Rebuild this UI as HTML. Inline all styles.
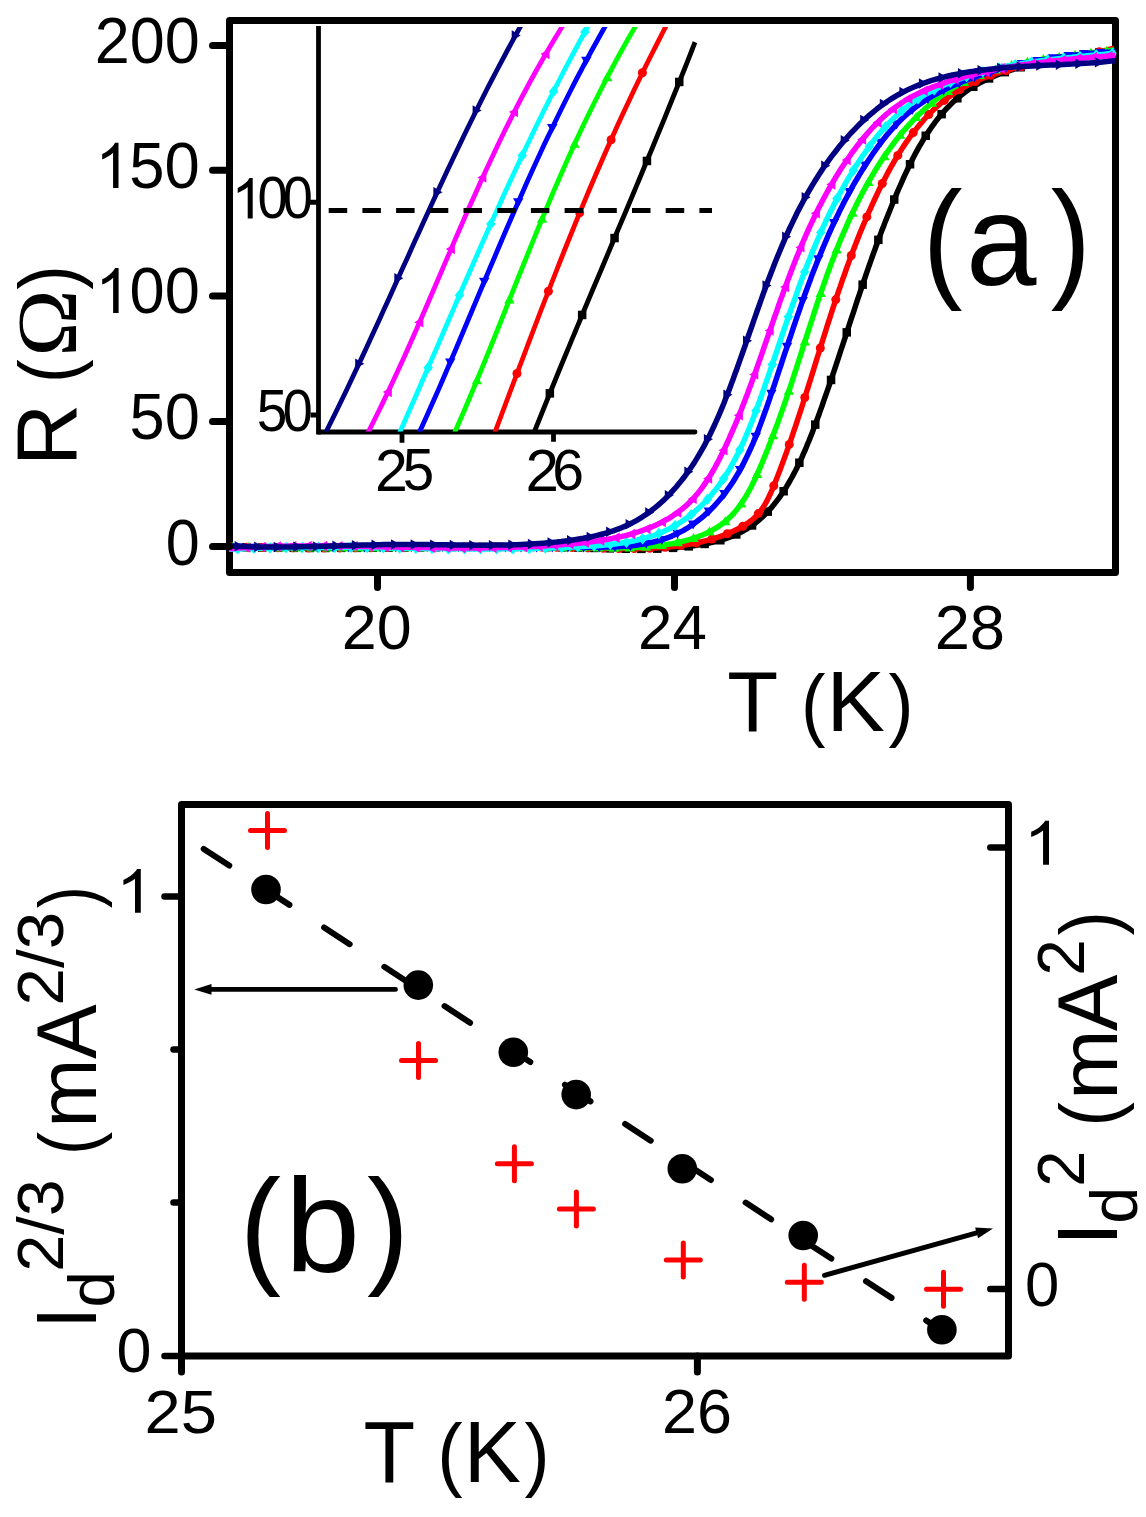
<!DOCTYPE html>
<html><head><meta charset="utf-8"><style>html,body{margin:0;padding:0;background:#fff;overflow:hidden}svg{display:block}</style></head><body>
<svg width="1146" height="1517" viewBox="0 0 1146 1517">
<rect x="0" y="0" width="1146" height="1517" fill="#ffffff"/>
<defs><clipPath id="ca"><rect x="229" y="24" width="887.5" height="545"/></clipPath><clipPath id="ci"><rect x="320.9" y="27" width="376.1" height="404.6"/></clipPath></defs>
<path d="M318.5 26 V434.4" fill="none" stroke="#000" stroke-width="4.8"/>
<path d="M318.5 432 H695" fill="none" stroke="#000" stroke-width="4.8" stroke-linecap="round"/>
<path d="M309.4 202.3 H318.5 M310.5 415 H318.5" stroke="#000" stroke-width="5"/>
<path d="M402 432 V442.8 M553.5 432 V441.8" stroke="#000" stroke-width="4.8"/>
<g clip-path="url(#ci)"><path d="M519.5 470.0 C522.1 463.3 524.6 456.7 527.2 450.0 C529.8 443.3 532.5 436.7 535.1 430.0 C537.7 423.3 540.4 416.7 543.1 410.0 C545.8 403.3 548.5 396.7 551.2 390.0 C553.9 383.3 556.6 376.7 559.3 370.0 C562.1 363.3 564.8 356.7 567.6 350.0 C570.3 343.3 573.1 336.7 575.9 330.0 C578.7 323.3 581.5 316.7 584.2 310.0 C587.0 303.3 589.8 296.7 592.6 290.0 C595.4 283.3 598.3 276.7 601.1 270.0 C603.9 263.3 606.7 256.7 609.5 250.0 C612.3 243.3 615.1 236.7 617.9 230.0 C620.7 223.3 623.6 216.7 626.4 210.0 C629.2 203.3 632.0 196.7 634.8 190.0 C637.6 183.3 640.4 176.7 643.1 170.0 C645.9 163.3 648.7 156.7 651.5 150.0 C654.2 143.3 657.0 136.7 659.7 130.0 C662.5 123.3 665.2 116.7 667.9 110.0 C670.6 103.3 673.3 96.7 676.0 90.0 C678.7 83.3 681.4 76.7 684.1 70.0 C686.7 63.3 690.0 55.1 692.0 50.0 C693.2 46.8 694.0 44.8 695.0 42.2" fill="none" stroke="#000000" stroke-width="4.8" stroke-linejoin="round"/>
<rect x="545.6" y="389.1" width="8.5" height="8.5" fill="#000000"/>
<rect x="577.9" y="310.7" width="8.5" height="8.5" fill="#000000"/>
<rect x="610.3" y="233.8" width="8.5" height="8.5" fill="#000000"/>
<rect x="642.7" y="156.7" width="8.5" height="8.5" fill="#000000"/>
<rect x="675.0" y="77.7" width="8.5" height="8.5" fill="#000000"/>
<path d="M480.6 470.0 C483.1 463.3 485.7 456.7 488.2 450.0 C490.7 443.3 493.2 436.7 495.8 430.0 C498.3 423.3 500.8 416.7 503.3 410.0 C505.8 403.3 508.3 396.7 510.8 390.0 C513.3 383.3 515.8 376.7 518.3 370.0 C520.9 363.3 523.4 356.7 525.9 350.0 C528.4 343.3 530.9 336.7 533.5 330.0 C536.0 323.3 538.6 316.7 541.1 310.0 C543.7 303.3 546.3 296.7 548.9 290.0 C551.5 283.3 554.1 276.7 556.7 270.0 C559.3 263.3 562.0 256.7 564.6 250.0 C567.3 243.3 570.0 236.7 572.7 230.0 C575.4 223.3 578.1 216.7 580.9 210.0 C583.6 203.3 586.4 196.7 589.2 190.0 C592.1 183.3 594.9 176.7 597.8 170.0 C600.7 163.3 603.6 156.7 606.5 150.0 C609.5 143.3 612.5 136.7 615.5 130.0 C618.5 123.3 621.6 116.7 624.7 110.0 C627.8 103.3 630.9 96.7 634.1 90.0 C637.3 83.3 640.5 76.7 643.8 70.0 C647.1 63.3 650.4 56.7 653.8 50.0 C657.1 43.3 660.6 36.7 664.0 30.0 C667.5 23.3 671.1 16.7 674.6 10.0 C678.2 3.3 681.9 -3.3 685.6 -10.0" fill="none" stroke="#ff0000" stroke-width="4.8" stroke-linejoin="round"/>
<circle cx="485.7" cy="456.6" r="4.5" fill="#ff0000"/>
<circle cx="517.0" cy="373.5" r="4.5" fill="#ff0000"/>
<circle cx="548.4" cy="291.3" r="4.5" fill="#ff0000"/>
<circle cx="579.7" cy="212.8" r="4.5" fill="#ff0000"/>
<circle cx="611.1" cy="139.8" r="4.5" fill="#ff0000"/>
<circle cx="642.4" cy="72.8" r="4.5" fill="#ff0000"/>
<circle cx="673.7" cy="11.7" r="4.5" fill="#ff0000"/>
<path d="M437.6 470.0 C440.7 463.3 443.8 456.7 446.8 450.0 C449.9 443.3 452.8 436.7 455.8 430.0 C458.7 423.3 461.6 416.7 464.5 410.0 C467.3 403.3 470.1 396.7 472.9 390.0 C475.7 383.3 478.5 376.7 481.2 370.0 C483.9 363.3 486.7 356.7 489.4 350.0 C492.1 343.3 494.7 336.7 497.4 330.0 C500.1 323.3 502.7 316.7 505.4 310.0 C508.0 303.3 510.7 296.7 513.3 290.0 C516.0 283.3 518.6 276.7 521.3 270.0 C524.0 263.3 526.7 256.7 529.4 250.0 C532.0 243.3 534.8 236.7 537.5 230.0 C540.2 223.3 543.0 216.7 545.8 210.0 C548.6 203.3 551.4 196.7 554.2 190.0 C557.1 183.3 560.0 176.7 562.9 170.0 C565.9 163.3 568.8 156.7 571.9 150.0 C574.9 143.3 578.0 136.7 581.1 130.0 C584.3 123.3 587.4 116.7 590.7 110.0 C594.0 103.3 597.3 96.7 600.7 90.0 C604.1 83.3 607.5 76.7 611.1 70.0 C614.6 63.3 618.2 56.6 621.9 50.0 C625.6 43.3 629.4 36.6 633.3 30.0 C637.2 23.3 641.1 16.6 645.2 10.0 C649.3 3.3 653.5 -3.3 657.7 -10.0" fill="none" stroke="#00ff00" stroke-width="4.8" stroke-linejoin="round"/>
<polygon points="444.3,450.3 439.1,459.3 449.5,459.3" fill="#00ff00"/>
<polygon points="476.9,375.3 471.7,384.3 482.1,384.3" fill="#00ff00"/>
<polygon points="509.5,294.5 504.2,303.5 514.7,303.5" fill="#00ff00"/>
<polygon points="542.0,213.8 536.8,222.8 547.3,222.8" fill="#00ff00"/>
<polygon points="574.6,138.8 569.4,147.8 579.8,147.8" fill="#00ff00"/>
<polygon points="607.2,72.2 601.9,81.2 612.4,81.2" fill="#00ff00"/>
<polygon points="639.7,13.8 634.5,22.8 645.0,22.8" fill="#00ff00"/>
<path d="M401.8 470.0 C404.9 463.3 408.1 456.7 411.2 450.0 C414.3 443.3 417.4 436.7 420.4 430.0 C423.5 423.3 426.5 416.7 429.4 410.0 C432.4 403.3 435.3 396.7 438.3 390.0 C441.2 383.3 444.1 376.7 446.9 370.0 C449.8 363.3 452.6 356.7 455.5 350.0 C458.3 343.3 461.1 336.7 463.9 330.0 C466.7 323.3 469.5 316.7 472.3 310.0 C475.1 303.3 477.9 296.7 480.7 290.0 C483.5 283.3 486.3 276.7 489.1 270.0 C492.0 263.3 494.8 256.7 497.6 250.0 C500.4 243.3 503.3 236.7 506.1 230.0 C509.0 223.3 511.9 216.7 514.8 210.0 C517.7 203.3 520.6 196.7 523.6 190.0 C526.5 183.3 529.5 176.7 532.5 170.0 C535.6 163.3 538.6 156.7 541.7 150.0 C544.8 143.3 548.0 136.7 551.2 130.0 C554.4 123.3 557.6 116.7 560.9 110.0 C564.2 103.3 567.5 96.7 570.9 90.0 C574.3 83.3 577.7 76.7 581.3 70.0 C584.8 63.3 588.4 56.7 592.0 50.0 C595.7 43.3 599.4 36.7 603.1 30.0 C606.9 23.3 610.8 16.6 614.7 10.0 C618.7 3.3 622.8 -3.3 626.8 -10.0" fill="none" stroke="#0000ff" stroke-width="4.8" stroke-linejoin="round"/>
<polygon points="416.2,444.4 411.0,435.4 421.5,435.4" fill="#0000ff"/>
<polygon points="450.3,367.5 445.0,358.4 455.5,358.4" fill="#0000ff"/>
<polygon points="484.3,286.8 479.0,277.8 489.5,277.8" fill="#0000ff"/>
<polygon points="518.3,207.2 513.0,198.2 523.5,198.2" fill="#0000ff"/>
<polygon points="552.3,132.9 547.0,123.9 557.5,123.9" fill="#0000ff"/>
<polygon points="586.3,65.8 581.1,56.8 591.5,56.8" fill="#0000ff"/>
<polygon points="620.3,6.0 615.1,-3.0 625.5,-3.0" fill="#0000ff"/>
<path d="M382.7 470.0 C385.7 463.3 388.8 456.7 391.8 450.0 C394.8 443.3 397.8 436.7 400.8 430.0 C403.7 423.3 406.7 416.7 409.6 410.0 C412.6 403.3 415.5 396.7 418.4 390.0 C421.3 383.3 424.2 376.7 427.1 370.0 C430.0 363.3 432.9 356.7 435.8 350.0 C438.7 343.3 441.6 336.7 444.4 330.0 C447.3 323.3 450.2 316.7 453.1 310.0 C456.0 303.3 458.9 296.7 461.7 290.0 C464.6 283.3 467.5 276.7 470.5 270.0 C473.4 263.3 476.3 256.7 479.2 250.0 C482.2 243.3 485.1 236.7 488.1 230.0 C491.1 223.3 494.0 216.7 497.1 210.0 C500.1 203.3 503.1 196.7 506.1 190.0 C509.2 183.3 512.3 176.7 515.4 170.0 C518.5 163.3 521.6 156.7 524.8 150.0 C528.0 143.3 531.2 136.7 534.4 130.0 C537.6 123.3 540.9 116.7 544.2 110.0 C547.5 103.3 550.8 96.7 554.2 90.0 C557.6 83.3 561.1 76.7 564.5 70.0 C568.0 63.3 571.5 56.7 575.1 50.0 C578.7 43.3 582.3 36.7 586.0 30.0 C589.6 23.3 593.4 16.7 597.1 10.0 C600.9 3.3 604.8 -3.3 608.7 -10.0" fill="none" stroke="#00ffff" stroke-width="4.8" stroke-linejoin="round"/>
<polygon points="396.8,433.2 401.5,438.9 396.8,444.6 392.0,438.9" fill="#00ffff"/>
<polygon points="428.1,362.0 432.9,367.7 428.1,373.4 423.4,367.7" fill="#00ffff"/>
<polygon points="459.5,289.5 464.2,295.2 459.5,300.9 454.7,295.2" fill="#00ffff"/>
<polygon points="490.8,218.2 495.6,223.9 490.8,229.6 486.1,223.9" fill="#00ffff"/>
<polygon points="522.2,149.8 526.9,155.5 522.2,161.2 517.4,155.5" fill="#00ffff"/>
<polygon points="553.5,85.7 558.3,91.4 553.5,97.1 548.8,91.4" fill="#00ffff"/>
<polygon points="584.8,26.3 589.6,32.0 584.8,37.7 580.1,32.0" fill="#00ffff"/>
<path d="M348.1 470.0 C351.7 463.3 355.4 456.7 359.0 450.0 C362.5 443.3 365.9 436.7 369.3 430.0 C372.7 423.3 376.0 416.7 379.3 410.0 C382.6 403.3 385.7 396.7 388.9 390.0 C392.1 383.3 395.2 376.7 398.2 370.0 C401.3 363.3 404.3 356.7 407.3 350.0 C410.3 343.3 413.2 336.7 416.2 330.0 C419.1 323.3 422.0 316.7 424.9 310.0 C427.8 303.3 430.6 296.7 433.5 290.0 C436.4 283.3 439.2 276.7 442.1 270.0 C444.9 263.3 447.8 256.7 450.7 250.0 C453.5 243.3 456.4 236.7 459.3 230.0 C462.2 223.3 465.1 216.7 468.0 210.0 C471.0 203.3 474.0 196.7 477.0 190.0 C480.0 183.3 483.0 176.7 486.1 170.0 C489.2 163.3 492.3 156.7 495.5 150.0 C498.6 143.3 501.9 136.7 505.1 130.0 C508.4 123.3 511.8 116.7 515.2 110.0 C518.6 103.3 522.1 96.7 525.7 90.0 C529.2 83.3 532.9 76.6 536.6 70.0 C540.4 63.3 544.2 56.6 548.1 50.0 C552.0 43.3 556.0 36.6 560.1 30.0 C564.2 23.3 568.4 16.6 572.7 10.0 C577.1 3.3 581.6 -3.3 586.1 -10.0" fill="none" stroke="#ff00ff" stroke-width="4.8" stroke-linejoin="round"/>
<polygon points="351.2,454.7 360.2,449.5 360.2,459.9" fill="#ff00ff"/>
<polygon points="382.8,392.0 391.8,386.7 391.8,397.2" fill="#ff00ff"/>
<polygon points="414.3,322.3 423.3,317.1 423.3,327.5" fill="#ff00ff"/>
<polygon points="445.8,249.0 454.9,243.8 454.9,254.3" fill="#ff00ff"/>
<polygon points="477.4,177.5 486.4,172.3 486.4,182.7" fill="#ff00ff"/>
<polygon points="508.9,112.0 518.0,106.8 518.0,117.2" fill="#ff00ff"/>
<polygon points="540.5,54.0 549.5,48.8 549.5,59.3" fill="#ff00ff"/>
<polygon points="572.0,3.1 581.1,-2.1 581.1,8.3" fill="#ff00ff"/>
<path d="M306.6 470.0 C310.0 463.3 313.5 456.7 316.9 450.0 C320.3 443.3 323.7 436.7 327.0 430.0 C330.4 423.3 333.6 416.7 336.9 410.0 C340.1 403.3 343.4 396.7 346.6 390.0 C349.7 383.3 352.9 376.7 356.0 370.0 C359.2 363.3 362.3 356.7 365.4 350.0 C368.5 343.3 371.5 336.7 374.6 330.0 C377.7 323.3 380.7 316.7 383.7 310.0 C386.8 303.3 389.8 296.7 392.8 290.0 C395.8 283.3 398.8 276.7 401.8 270.0 C404.9 263.3 407.9 256.7 410.9 250.0 C413.9 243.3 416.9 236.7 420.0 230.0 C423.0 223.3 426.0 216.7 429.1 210.0 C432.1 203.3 435.2 196.7 438.3 190.0 C441.4 183.3 444.5 176.7 447.6 170.0 C450.8 163.3 453.9 156.7 457.1 150.0 C460.3 143.3 463.5 136.7 466.7 130.0 C470.0 123.3 473.3 116.7 476.6 110.0 C479.9 103.3 483.2 96.7 486.6 90.0 C490.0 83.3 493.5 76.7 497.0 70.0 C500.5 63.3 504.0 56.7 507.6 50.0 C511.2 43.3 514.8 36.7 518.5 30.0 C522.2 23.3 526.0 16.7 529.8 10.0 C533.7 3.3 537.6 -3.3 541.5 -10.0" fill="none" stroke="#000080" stroke-width="4.8" stroke-linejoin="round"/>
<polygon points="364.2,363.7 355.2,358.5 355.2,368.9" fill="#000080"/>
<polygon points="403.3,278.2 394.3,273.0 394.3,283.5" fill="#000080"/>
<polygon points="442.5,192.3 433.4,187.0 433.4,197.5" fill="#000080"/>
<polygon points="481.6,110.4 472.6,105.2 472.6,115.6" fill="#000080"/>
<polygon points="520.7,35.5 511.7,30.3 511.7,40.7" fill="#000080"/></g>
<line x1="328.7" y1="210.5" x2="712" y2="210.5" stroke="#000" stroke-width="5" stroke-dasharray="18.5 15.2"/>
<rect x="229.5" y="20.5" width="886" height="552" fill="none" stroke="#000" stroke-width="7" stroke-linejoin="round"/>
<g clip-path="url(#ca)"><path d="M228.8 546.8 L233.4 546.9 L237.9 547.1 L242.5 547.2 L247.1 547.2 L251.7 547.3 L256.3 547.4 L260.8 547.5 L265.4 547.6 L270.0 547.6 L274.5 547.7 L279.1 547.7 L283.7 547.8 L288.2 547.8 L292.8 547.8 L297.4 547.9 L301.9 547.9 L306.5 547.9 L311.0 547.9 L315.6 547.9 L320.1 547.9 L324.7 547.9 L329.2 547.9 L333.8 547.9 L338.3 547.9 L342.9 547.9 L347.4 547.9 L352.0 547.8 L356.5 547.8 L361.1 547.8 L365.6 547.8 L370.1 547.7 L374.7 547.7 L379.2 547.7 L383.8 547.6 L388.3 547.6 L392.8 547.6 L397.4 547.5 L401.9 547.5 L406.4 547.5 L411.0 547.4 L415.5 547.4 L420.0 547.3 L424.6 547.3 L429.1 547.3 L433.7 547.2 L438.2 547.2 L442.7 547.2 L447.3 547.1 L451.8 547.1 L456.3 547.1 L460.9 547.0 L465.4 547.0 L470.0 547.0 L474.5 547.0 L479.0 547.0 L483.6 546.9 L488.1 546.9 L492.7 546.9 L497.2 546.9 L501.8 546.9 L506.3 546.9 L510.9 546.9 L515.4 546.9 L520.0 546.9 L524.5 547.0 L529.1 547.0 L533.6 547.0 L538.2 547.0 L542.7 547.1 L547.3 547.1 L551.9 547.2 L556.4 547.2 L561.0 547.3 L565.6 547.4 L570.1 547.4 L574.7 547.5 L579.3 547.6 L583.9 547.7 L588.4 547.8 L593.0 547.9 L597.6 548.0 L602.2 548.2 L606.8 548.3 L611.3 548.4 L615.9 548.5 L620.5 548.6 L625.1 548.7 L629.7 548.8 L634.3 548.8 L638.9 548.9 L643.4 548.8 L648.0 548.8 L652.6 548.7 L657.2 548.6 L661.7 548.5 L666.3 548.2 L670.8 548.0 L675.4 547.7 L679.9 547.3 L684.5 546.9 L689.0 546.4 L693.5 545.8 L698.0 545.1 L702.5 544.4 L706.9 543.5 L711.3 542.6 L715.6 541.5 L719.9 540.4 L724.1 539.1 L728.3 537.6 L732.4 536.1 L736.4 534.4 L740.3 532.5 L744.1 530.5 L747.8 528.3 L751.4 525.9 L754.9 523.4 L758.3 520.7 L761.6 517.8 L764.7 514.8 L767.8 511.7 L770.8 508.4 L773.6 505.0 L776.4 501.4 L779.1 497.8 L781.7 494.1 L784.2 490.3 L786.7 486.4 L789.0 482.5 L791.3 478.5 L793.5 474.4 L795.7 470.3 L797.7 466.2 L799.7 462.1 L801.7 457.9 L803.5 453.7 L805.4 449.5 L807.1 445.2 L808.9 441.0 L810.6 436.7 L812.3 432.4 L813.9 428.1 L815.5 423.8 L817.1 419.5 L818.7 415.2 L820.2 410.9 L821.8 406.6 L823.3 402.2 L824.8 397.9 L826.3 393.6 L827.8 389.3 L829.3 385.0 L830.8 380.7 L832.2 376.4 L833.7 372.1 L835.1 367.8 L836.6 363.4 L838.0 359.1 L839.4 354.8 L840.8 350.5 L842.3 346.2 L843.7 341.9 L845.1 337.6 L846.5 333.3 L847.9 329.0 L849.3 324.7 L850.7 320.4 L852.1 316.1 L853.6 311.8 L855.0 307.5 L856.4 303.2 L857.8 298.9 L859.3 294.6 L860.7 290.3 L862.2 286.0 L863.6 281.7 L865.1 277.4 L866.5 273.1 L868.0 268.9 L869.5 264.6 L871.0 260.3 L872.5 256.0 L874.1 251.8 L875.6 247.5 L877.2 243.2 L878.7 238.9 L880.3 234.7 L881.9 230.4 L883.6 226.2 L885.2 221.9 L886.9 217.7 L888.6 213.4 L890.3 209.2 L892.0 204.9 L893.7 200.7 L895.5 196.4 L897.3 192.2 L899.1 188.0 L901.0 183.8 L902.8 179.6 L904.7 175.4 L906.7 171.2 L908.7 167.0 L910.7 162.9 L912.7 158.8 L914.8 154.7 L917.0 150.7 L919.2 146.7 L921.5 142.8 L923.8 138.9 L926.2 135.1 L928.7 131.4 L931.2 127.7 L933.8 124.1 L936.4 120.5 L939.2 117.1 L942.0 113.7 L944.9 110.4 L947.9 107.2 L951.0 104.1 L954.1 101.1 L957.4 98.2 L960.7 95.5 L964.2 92.8 L967.7 90.3 L971.4 87.8 L975.2 85.5 L979.0 83.3 L983.0 81.3 L987.0 79.3 L991.2 77.5 L995.3 75.7 L999.6 74.0 L1003.9 72.5 L1008.3 71.0 L1012.7 69.6 L1017.2 68.2 L1021.6 67.0 L1026.2 65.8 L1030.7 64.6 L1035.2 63.5 L1039.8 62.5 L1044.4 61.5 L1048.9 60.5 L1053.5 59.6 L1058.0 58.8 L1062.6 57.9 L1067.1 57.1 L1071.6 56.4 L1076.1 55.7 L1080.6 55.0 L1085.0 54.3 L1089.4 53.7 L1093.8 53.1 L1098.2 52.5 L1102.5 51.9 L1106.7 51.4 L1110.9 50.9 L1115.1 50.4" fill="none" stroke="#000000" stroke-width="5.5" stroke-linejoin="round"/>
<rect x="242.1" y="543.0" width="8.5" height="8.5" fill="#000000"/>
<rect x="257.9" y="543.3" width="8.5" height="8.5" fill="#000000"/>
<rect x="273.8" y="543.5" width="8.5" height="8.5" fill="#000000"/>
<rect x="289.5" y="543.6" width="8.5" height="8.5" fill="#000000"/>
<rect x="305.4" y="543.7" width="8.5" height="8.5" fill="#000000"/>
<rect x="321.1" y="543.7" width="8.5" height="8.5" fill="#000000"/>
<rect x="336.9" y="543.6" width="8.5" height="8.5" fill="#000000"/>
<rect x="352.8" y="543.6" width="8.5" height="8.5" fill="#000000"/>
<rect x="368.5" y="543.5" width="8.5" height="8.5" fill="#000000"/>
<rect x="384.3" y="543.4" width="8.5" height="8.5" fill="#000000"/>
<rect x="400.1" y="543.2" width="8.5" height="8.5" fill="#000000"/>
<rect x="415.9" y="543.1" width="8.5" height="8.5" fill="#000000"/>
<rect x="431.8" y="543.0" width="8.5" height="8.5" fill="#000000"/>
<rect x="447.5" y="542.8" width="8.5" height="8.5" fill="#000000"/>
<rect x="463.3" y="542.8" width="8.5" height="8.5" fill="#000000"/>
<rect x="479.1" y="542.7" width="8.5" height="8.5" fill="#000000"/>
<rect x="494.9" y="542.7" width="8.5" height="8.5" fill="#000000"/>
<rect x="510.8" y="542.7" width="8.5" height="8.5" fill="#000000"/>
<rect x="526.5" y="542.7" width="8.5" height="8.5" fill="#000000"/>
<rect x="542.3" y="542.9" width="8.5" height="8.5" fill="#000000"/>
<rect x="558.1" y="543.1" width="8.5" height="8.5" fill="#000000"/>
<rect x="574.0" y="543.3" width="8.5" height="8.5" fill="#000000"/>
<rect x="589.8" y="543.7" width="8.5" height="8.5" fill="#000000"/>
<rect x="605.5" y="544.1" width="8.5" height="8.5" fill="#000000"/>
<rect x="621.4" y="544.5" width="8.5" height="8.5" fill="#000000"/>
<rect x="637.1" y="544.6" width="8.5" height="8.5" fill="#000000"/>
<rect x="653.0" y="544.4" width="8.5" height="8.5" fill="#000000"/>
<rect x="668.8" y="543.6" width="8.5" height="8.5" fill="#000000"/>
<rect x="684.5" y="542.1" width="8.5" height="8.5" fill="#000000"/>
<rect x="700.4" y="539.7" width="8.5" height="8.5" fill="#000000"/>
<rect x="716.1" y="536.0" width="8.5" height="8.5" fill="#000000"/>
<rect x="732.0" y="530.2" width="8.5" height="8.5" fill="#000000"/>
<rect x="747.8" y="521.2" width="8.5" height="8.5" fill="#000000"/>
<rect x="763.5" y="507.4" width="8.5" height="8.5" fill="#000000"/>
<rect x="779.4" y="487.0" width="8.5" height="8.5" fill="#000000"/>
<rect x="795.1" y="458.5" width="8.5" height="8.5" fill="#000000"/>
<rect x="811.0" y="420.4" width="8.5" height="8.5" fill="#000000"/>
<rect x="826.8" y="375.7" width="8.5" height="8.5" fill="#000000"/>
<rect x="842.5" y="328.1" width="8.5" height="8.5" fill="#000000"/>
<rect x="858.4" y="280.4" width="8.5" height="8.5" fill="#000000"/>
<rect x="874.1" y="235.6" width="8.5" height="8.5" fill="#000000"/>
<rect x="890.0" y="195.3" width="8.5" height="8.5" fill="#000000"/>
<rect x="905.8" y="160.0" width="8.5" height="8.5" fill="#000000"/>
<rect x="921.5" y="131.5" width="8.5" height="8.5" fill="#000000"/>
<rect x="937.4" y="109.9" width="8.5" height="8.5" fill="#000000"/>
<rect x="953.1" y="94.0" width="8.5" height="8.5" fill="#000000"/>
<rect x="969.0" y="82.5" width="8.5" height="8.5" fill="#000000"/>
<rect x="984.8" y="74.2" width="8.5" height="8.5" fill="#000000"/>
<rect x="1000.5" y="67.9" width="8.5" height="8.5" fill="#000000"/>
<rect x="1016.4" y="63.0" width="8.5" height="8.5" fill="#000000"/>
<rect x="1032.2" y="59.0" width="8.5" height="8.5" fill="#000000"/>
<rect x="1048.0" y="55.6" width="8.5" height="8.5" fill="#000000"/>
<rect x="1063.8" y="52.7" width="8.5" height="8.5" fill="#000000"/>
<rect x="1079.5" y="50.2" width="8.5" height="8.5" fill="#000000"/>
<rect x="1095.3" y="48.0" width="8.5" height="8.5" fill="#000000"/>
<path d="M228.6 546.8 L233.2 546.9 L237.8 547.0 L242.4 547.1 L247.1 547.2 L251.7 547.3 L256.3 547.4 L260.9 547.5 L265.4 547.6 L270.0 547.6 L274.6 547.7 L279.2 547.7 L283.8 547.8 L288.3 547.8 L292.9 547.8 L297.5 547.9 L302.0 547.9 L306.6 547.9 L311.2 547.9 L315.7 547.9 L320.3 547.9 L324.8 547.9 L329.4 547.9 L333.9 547.9 L338.5 547.9 L343.0 547.9 L347.6 547.9 L352.1 547.9 L356.6 547.8 L361.2 547.8 L365.7 547.8 L370.3 547.8 L374.8 547.7 L379.3 547.7 L383.9 547.6 L388.4 547.6 L392.9 547.6 L397.4 547.5 L402.0 547.5 L406.5 547.5 L411.0 547.4 L415.6 547.4 L420.1 547.3 L424.6 547.3 L429.2 547.3 L433.7 547.2 L438.2 547.2 L442.7 547.1 L447.3 547.1 L451.8 547.1 L456.3 547.1 L460.9 547.0 L465.4 547.0 L469.9 547.0 L474.5 546.9 L479.0 546.9 L483.6 546.9 L488.1 546.9 L492.7 546.9 L497.2 546.9 L501.7 546.9 L506.3 546.9 L510.9 546.9 L515.4 546.9 L520.0 546.9 L524.5 546.9 L529.1 547.0 L533.7 547.0 L538.2 547.0 L542.8 547.1 L547.4 547.1 L551.9 547.2 L556.5 547.3 L561.1 547.3 L565.7 547.4 L570.3 547.5 L574.9 547.6 L579.5 547.7 L584.1 547.8 L588.7 547.9 L593.3 548.0 L597.9 548.1 L602.5 548.2 L607.1 548.3 L611.8 548.4 L616.4 548.5 L621.0 548.6 L625.6 548.6 L630.2 548.6 L634.8 548.6 L639.3 548.5 L643.9 548.4 L648.5 548.3 L653.0 548.1 L657.5 547.8 L662.1 547.5 L666.6 547.2 L671.1 546.7 L675.5 546.3 L680.0 545.7 L684.4 545.1 L688.8 544.3 L693.2 543.5 L697.6 542.6 L702.0 541.7 L706.3 540.6 L710.6 539.4 L714.8 538.1 L719.1 536.8 L723.3 535.3 L727.5 533.6 L731.6 531.9 L735.7 530.0 L739.7 528.0 L743.6 525.8 L747.3 523.4 L750.9 520.8 L754.2 518.0 L757.3 514.8 L760.1 511.5 L762.7 507.9 L765.1 504.1 L767.3 500.1 L769.3 496.0 L771.3 491.8 L773.1 487.5 L774.8 483.2 L776.6 478.9 L778.2 474.6 L779.9 470.3 L781.5 465.9 L783.1 461.6 L784.7 457.3 L786.3 453.0 L787.8 448.7 L789.3 444.4 L790.8 440.1 L792.3 435.7 L793.7 431.4 L795.2 427.1 L796.6 422.8 L798.0 418.5 L799.5 414.1 L800.9 409.8 L802.3 405.5 L803.6 401.2 L805.0 396.8 L806.4 392.5 L807.8 388.2 L809.1 383.8 L810.5 379.5 L811.8 375.2 L813.2 370.8 L814.5 366.5 L815.9 362.1 L817.2 357.8 L818.6 353.5 L819.9 349.1 L821.3 344.8 L822.6 340.5 L824.0 336.1 L825.4 331.8 L826.7 327.5 L828.1 323.2 L829.5 318.8 L830.9 314.5 L832.3 310.2 L833.7 305.9 L835.1 301.6 L836.6 297.2 L838.0 292.9 L839.5 288.6 L841.0 284.3 L842.4 280.0 L844.0 275.8 L845.5 271.5 L847.0 267.2 L848.6 262.9 L850.1 258.6 L851.7 254.4 L853.3 250.1 L855.0 245.9 L856.6 241.6 L858.3 237.4 L860.0 233.1 L861.7 228.9 L863.5 224.7 L865.3 220.5 L867.1 216.2 L868.9 212.0 L870.8 207.8 L872.7 203.7 L874.6 199.5 L876.5 195.3 L878.5 191.1 L880.5 187.0 L882.6 182.9 L884.7 178.8 L886.8 174.7 L889.0 170.6 L891.2 166.6 L893.5 162.6 L895.8 158.7 L898.2 154.8 L900.6 150.9 L903.0 147.1 L905.5 143.4 L908.1 139.7 L910.7 136.0 L913.4 132.4 L916.2 128.9 L919.0 125.5 L921.9 122.1 L924.8 118.8 L927.8 115.5 L930.9 112.4 L934.1 109.3 L937.3 106.3 L940.6 103.5 L944.0 100.7 L947.4 98.0 L951.0 95.4 L954.6 92.9 L958.3 90.5 L962.1 88.2 L966.0 86.1 L969.9 84.0 L974.0 82.1 L978.1 80.3 L982.3 78.5 L986.5 76.9 L990.8 75.3 L995.2 73.9 L999.6 72.5 L1004.0 71.1 L1008.5 69.9 L1013.0 68.7 L1017.6 67.6 L1022.1 66.5 L1026.7 65.5 L1031.3 64.5 L1035.9 63.6 L1040.5 62.7 L1045.1 61.8 L1049.7 60.9 L1054.3 60.1 L1058.9 59.3 L1063.4 58.5 L1067.9 57.7 L1072.4 57.0 L1076.8 56.2 L1081.2 55.4 L1085.5 54.6 L1089.8 53.7 L1094.0 52.9 L1098.2 52.0 L1102.3 51.1 L1106.3 50.2 L1110.2 49.2 L1114.0 48.2" fill="none" stroke="#ff0000" stroke-width="5.5" stroke-linejoin="round"/>
<circle cx="231.3" cy="546.9" r="4.5" fill="#ff0000"/>
<circle cx="246.8" cy="547.2" r="4.5" fill="#ff0000"/>
<circle cx="262.3" cy="547.5" r="4.5" fill="#ff0000"/>
<circle cx="277.8" cy="547.7" r="4.5" fill="#ff0000"/>
<circle cx="293.3" cy="547.8" r="4.5" fill="#ff0000"/>
<circle cx="308.8" cy="547.9" r="4.5" fill="#ff0000"/>
<circle cx="324.3" cy="547.9" r="4.5" fill="#ff0000"/>
<circle cx="339.8" cy="547.9" r="4.5" fill="#ff0000"/>
<circle cx="355.3" cy="547.8" r="4.5" fill="#ff0000"/>
<circle cx="370.8" cy="547.7" r="4.5" fill="#ff0000"/>
<circle cx="386.3" cy="547.6" r="4.5" fill="#ff0000"/>
<circle cx="401.8" cy="547.5" r="4.5" fill="#ff0000"/>
<circle cx="417.3" cy="547.4" r="4.5" fill="#ff0000"/>
<circle cx="432.8" cy="547.2" r="4.5" fill="#ff0000"/>
<circle cx="448.3" cy="547.1" r="4.5" fill="#ff0000"/>
<circle cx="463.8" cy="547.0" r="4.5" fill="#ff0000"/>
<circle cx="479.3" cy="546.9" r="4.5" fill="#ff0000"/>
<circle cx="494.8" cy="546.9" r="4.5" fill="#ff0000"/>
<circle cx="510.3" cy="546.9" r="4.5" fill="#ff0000"/>
<circle cx="525.8" cy="547.0" r="4.5" fill="#ff0000"/>
<circle cx="541.3" cy="547.1" r="4.5" fill="#ff0000"/>
<circle cx="556.8" cy="547.3" r="4.5" fill="#ff0000"/>
<circle cx="572.3" cy="547.5" r="4.5" fill="#ff0000"/>
<circle cx="587.8" cy="547.9" r="4.5" fill="#ff0000"/>
<circle cx="603.3" cy="548.2" r="4.5" fill="#ff0000"/>
<circle cx="618.8" cy="548.5" r="4.5" fill="#ff0000"/>
<circle cx="634.3" cy="548.6" r="4.5" fill="#ff0000"/>
<circle cx="649.8" cy="548.2" r="4.5" fill="#ff0000"/>
<circle cx="665.3" cy="547.3" r="4.5" fill="#ff0000"/>
<circle cx="680.8" cy="545.6" r="4.5" fill="#ff0000"/>
<circle cx="696.3" cy="542.9" r="4.5" fill="#ff0000"/>
<circle cx="711.8" cy="539.1" r="4.5" fill="#ff0000"/>
<circle cx="727.3" cy="533.7" r="4.5" fill="#ff0000"/>
<circle cx="742.8" cy="526.3" r="4.5" fill="#ff0000"/>
<circle cx="758.3" cy="513.6" r="4.5" fill="#ff0000"/>
<circle cx="773.8" cy="485.8" r="4.5" fill="#ff0000"/>
<circle cx="789.3" cy="444.4" r="4.5" fill="#ff0000"/>
<circle cx="804.8" cy="397.5" r="4.5" fill="#ff0000"/>
<circle cx="820.3" cy="348.0" r="4.5" fill="#ff0000"/>
<circle cx="835.8" cy="299.6" r="4.5" fill="#ff0000"/>
<circle cx="851.3" cy="255.5" r="4.5" fill="#ff0000"/>
<circle cx="866.8" cy="216.9" r="4.5" fill="#ff0000"/>
<circle cx="882.3" cy="183.5" r="4.5" fill="#ff0000"/>
<circle cx="897.8" cy="155.4" r="4.5" fill="#ff0000"/>
<circle cx="913.3" cy="132.6" r="4.5" fill="#ff0000"/>
<circle cx="928.8" cy="114.5" r="4.5" fill="#ff0000"/>
<circle cx="944.3" cy="100.4" r="4.5" fill="#ff0000"/>
<circle cx="959.8" cy="89.6" r="4.5" fill="#ff0000"/>
<circle cx="975.3" cy="81.5" r="4.5" fill="#ff0000"/>
<circle cx="990.8" cy="75.3" r="4.5" fill="#ff0000"/>
<circle cx="1006.3" cy="70.5" r="4.5" fill="#ff0000"/>
<circle cx="1021.8" cy="66.6" r="4.5" fill="#ff0000"/>
<circle cx="1037.3" cy="63.3" r="4.5" fill="#ff0000"/>
<circle cx="1052.8" cy="60.4" r="4.5" fill="#ff0000"/>
<circle cx="1068.3" cy="57.7" r="4.5" fill="#ff0000"/>
<circle cx="1083.8" cy="54.9" r="4.5" fill="#ff0000"/>
<circle cx="1099.3" cy="51.8" r="4.5" fill="#ff0000"/>
<path d="M228.7 547.1 L233.3 547.2 L237.8 547.2 L242.4 547.3 L247.0 547.3 L251.5 547.4 L256.1 547.4 L260.6 547.5 L265.2 547.5 L269.7 547.6 L274.3 547.6 L278.8 547.6 L283.4 547.7 L287.9 547.7 L292.4 547.7 L297.0 547.7 L301.5 547.7 L306.0 547.7 L310.6 547.7 L315.1 547.8 L319.6 547.8 L324.1 547.8 L328.6 547.8 L333.2 547.7 L337.7 547.7 L342.2 547.7 L346.7 547.7 L351.2 547.7 L355.7 547.7 L360.2 547.7 L364.8 547.7 L369.3 547.6 L373.8 547.6 L378.3 547.6 L382.8 547.6 L387.3 547.6 L391.8 547.5 L396.3 547.5 L400.8 547.5 L405.3 547.5 L409.8 547.5 L414.3 547.4 L418.8 547.4 L423.3 547.4 L427.8 547.4 L432.3 547.3 L436.8 547.3 L441.3 547.3 L445.8 547.3 L450.4 547.3 L454.9 547.2 L459.4 547.2 L463.9 547.2 L468.4 547.2 L472.9 547.2 L477.4 547.2 L481.9 547.1 L486.4 547.1 L491.0 547.1 L495.5 547.1 L500.0 547.1 L504.5 547.1 L509.0 547.1 L513.6 547.1 L518.1 547.1 L522.6 547.1 L527.1 547.1 L531.7 547.2 L536.2 547.2 L540.7 547.2 L545.3 547.2 L549.8 547.2 L554.4 547.3 L558.9 547.3 L563.5 547.3 L568.0 547.4 L572.6 547.4 L577.1 547.5 L581.7 547.5 L586.2 547.6 L590.8 547.7 L595.4 547.7 L600.0 547.8 L604.5 547.8 L609.1 547.9 L613.7 547.9 L618.2 547.9 L622.8 547.8 L627.4 547.7 L631.9 547.6 L636.4 547.4 L641.0 547.2 L645.5 546.9 L650.0 546.5 L654.5 546.1 L659.0 545.6 L663.5 545.0 L668.0 544.3 L672.4 543.6 L676.8 542.7 L681.2 541.7 L685.6 540.6 L689.9 539.4 L694.2 538.0 L698.3 536.6 L702.4 535.0 L706.4 533.2 L710.3 531.3 L714.1 529.2 L717.8 526.9 L721.3 524.5 L724.7 521.9 L728.0 519.1 L731.1 516.1 L734.0 513.0 L736.8 509.6 L739.4 506.2 L742.0 502.5 L744.4 498.8 L746.7 495.0 L748.9 491.0 L751.1 487.0 L753.1 482.9 L755.1 478.7 L757.0 474.5 L758.9 470.3 L760.7 466.1 L762.5 461.9 L764.2 457.6 L766.0 453.4 L767.7 449.2 L769.3 445.0 L771.0 440.8 L772.6 436.6 L774.2 432.3 L775.8 428.1 L777.4 423.9 L778.9 419.7 L780.4 415.4 L781.9 411.2 L783.4 407.0 L784.9 402.7 L786.4 398.4 L787.8 394.2 L789.2 389.9 L790.7 385.6 L792.1 381.3 L793.5 377.0 L794.9 372.7 L796.3 368.4 L797.7 364.0 L799.1 359.7 L800.5 355.4 L801.8 351.1 L803.2 346.8 L804.6 342.4 L806.0 338.1 L807.4 333.8 L808.8 329.4 L810.2 325.1 L811.6 320.8 L813.0 316.5 L814.4 312.1 L815.8 307.8 L817.2 303.5 L818.7 299.2 L820.1 294.9 L821.6 290.6 L823.1 286.3 L824.6 282.0 L826.1 277.8 L827.6 273.5 L829.2 269.2 L830.7 265.0 L832.3 260.8 L834.0 256.5 L835.6 252.3 L837.3 248.1 L838.9 243.9 L840.6 239.7 L842.4 235.6 L844.2 231.4 L846.0 227.3 L847.8 223.2 L849.6 219.0 L851.5 215.0 L853.5 210.9 L855.4 206.8 L857.4 202.8 L859.4 198.8 L861.5 194.8 L863.6 190.8 L865.8 186.8 L868.0 182.9 L870.2 179.0 L872.5 175.1 L874.8 171.2 L877.2 167.3 L879.6 163.5 L882.0 159.8 L884.5 156.0 L887.1 152.3 L889.7 148.6 L892.4 145.0 L895.1 141.4 L897.8 137.9 L900.6 134.4 L903.5 131.0 L906.4 127.6 L909.4 124.3 L912.4 121.1 L915.5 117.9 L918.7 114.8 L921.9 111.7 L925.1 108.7 L928.5 105.8 L931.8 103.0 L935.3 100.2 L938.8 97.6 L942.4 95.0 L946.0 92.5 L949.7 90.1 L953.5 87.7 L957.3 85.5 L961.2 83.4 L965.2 81.4 L969.3 79.4 L973.4 77.6 L977.6 75.9 L981.8 74.2 L986.1 72.7 L990.4 71.2 L994.8 69.8 L999.3 68.5 L1003.7 67.3 L1008.2 66.2 L1012.7 65.1 L1017.3 64.0 L1021.9 63.1 L1026.4 62.1 L1031.0 61.3 L1035.6 60.5 L1040.2 59.7 L1044.8 59.0 L1049.4 58.3 L1054.0 57.6 L1058.6 57.0 L1063.1 56.4 L1067.6 55.8 L1072.1 55.2 L1076.6 54.7 L1081.0 54.2 L1085.4 53.6 L1089.7 53.1 L1094.0 52.6 L1098.2 52.1 L1102.4 51.5 L1106.5 51.0 L1110.5 50.4 L1114.5 49.9" fill="none" stroke="#00ff00" stroke-width="5.5" stroke-linejoin="round"/>
<polygon points="232.4,541.9 227.2,551.0 237.6,551.0" fill="#00ff00"/>
<polygon points="248.3,542.1 243.1,551.2 253.5,551.2" fill="#00ff00"/>
<polygon points="264.2,542.3 259.0,551.3 269.4,551.3" fill="#00ff00"/>
<polygon points="280.1,542.4 274.9,551.4 285.3,551.4" fill="#00ff00"/>
<polygon points="296.0,542.5 290.8,551.5 301.2,551.5" fill="#00ff00"/>
<polygon points="311.9,542.5 306.7,551.5 317.1,551.5" fill="#00ff00"/>
<polygon points="327.8,542.5 322.6,551.6 333.0,551.6" fill="#00ff00"/>
<polygon points="343.7,542.5 338.5,551.5 348.9,551.5" fill="#00ff00"/>
<polygon points="359.6,542.5 354.4,551.5 364.8,551.5" fill="#00ff00"/>
<polygon points="375.5,542.4 370.3,551.4 380.7,551.4" fill="#00ff00"/>
<polygon points="391.4,542.3 386.2,551.3 396.6,551.3" fill="#00ff00"/>
<polygon points="407.3,542.2 402.1,551.3 412.5,551.3" fill="#00ff00"/>
<polygon points="423.2,542.2 418.0,551.2 428.4,551.2" fill="#00ff00"/>
<polygon points="439.1,542.1 433.9,551.1 444.3,551.1" fill="#00ff00"/>
<polygon points="455.0,542.0 449.8,551.0 460.2,551.0" fill="#00ff00"/>
<polygon points="470.9,541.9 465.7,551.0 476.1,551.0" fill="#00ff00"/>
<polygon points="486.8,541.9 481.6,550.9 492.0,550.9" fill="#00ff00"/>
<polygon points="502.7,541.9 497.5,550.9 507.9,550.9" fill="#00ff00"/>
<polygon points="518.6,541.9 513.4,550.9 523.8,550.9" fill="#00ff00"/>
<polygon points="534.5,541.9 529.3,551.0 539.7,551.0" fill="#00ff00"/>
<polygon points="550.4,542.0 545.2,551.1 555.6,551.1" fill="#00ff00"/>
<polygon points="566.3,542.2 561.1,551.2 571.5,551.2" fill="#00ff00"/>
<polygon points="582.2,542.3 577.0,551.3 587.4,551.3" fill="#00ff00"/>
<polygon points="598.1,542.5 592.9,551.6 603.3,551.6" fill="#00ff00"/>
<polygon points="614.0,542.7 608.8,551.7 619.2,551.7" fill="#00ff00"/>
<polygon points="629.9,542.4 624.7,551.5 635.1,551.5" fill="#00ff00"/>
<polygon points="645.8,541.6 640.6,550.7 651.0,550.7" fill="#00ff00"/>
<polygon points="661.7,540.0 656.5,549.0 666.9,549.0" fill="#00ff00"/>
<polygon points="677.6,537.3 672.4,546.3 682.8,546.3" fill="#00ff00"/>
<polygon points="693.5,533.0 688.3,542.1 698.7,542.1" fill="#00ff00"/>
<polygon points="709.4,526.5 704.2,535.5 714.6,535.5" fill="#00ff00"/>
<polygon points="725.3,516.2 720.1,525.2 730.5,525.2" fill="#00ff00"/>
<polygon points="741.2,498.4 736.0,507.5 746.4,507.5" fill="#00ff00"/>
<polygon points="757.1,469.1 751.9,478.1 762.3,478.1" fill="#00ff00"/>
<polygon points="773.0,430.3 767.8,439.3 778.2,439.3" fill="#00ff00"/>
<polygon points="788.9,385.7 783.7,394.7 794.1,394.7" fill="#00ff00"/>
<polygon points="804.8,336.6 799.6,345.6 810.0,345.6" fill="#00ff00"/>
<polygon points="820.7,288.0 815.5,297.0 825.9,297.0" fill="#00ff00"/>
<polygon points="836.6,244.5 831.4,253.6 841.8,253.6" fill="#00ff00"/>
<polygon points="852.5,207.7 847.3,216.7 857.7,216.7" fill="#00ff00"/>
<polygon points="868.4,176.9 863.2,185.9 873.6,185.9" fill="#00ff00"/>
<polygon points="884.3,151.1 879.1,160.2 889.5,160.2" fill="#00ff00"/>
<polygon points="900.2,129.7 895.0,138.8 905.4,138.8" fill="#00ff00"/>
<polygon points="916.1,112.1 910.9,121.1 921.3,121.1" fill="#00ff00"/>
<polygon points="932.0,97.6 926.8,106.7 937.2,106.7" fill="#00ff00"/>
<polygon points="947.9,86.0 942.7,95.1 953.1,95.1" fill="#00ff00"/>
<polygon points="963.8,76.9 958.6,85.9 969.0,85.9" fill="#00ff00"/>
<polygon points="979.7,69.8 974.5,78.9 984.9,78.9" fill="#00ff00"/>
<polygon points="995.6,64.4 990.4,73.4 1000.8,73.4" fill="#00ff00"/>
<polygon points="1011.5,60.1 1006.3,69.2 1016.7,69.2" fill="#00ff00"/>
<polygon points="1027.4,56.7 1022.2,65.8 1032.6,65.8" fill="#00ff00"/>
<polygon points="1043.3,54.0 1038.1,63.0 1048.5,63.0" fill="#00ff00"/>
<polygon points="1059.2,51.7 1054.0,60.7 1064.4,60.7" fill="#00ff00"/>
<polygon points="1075.1,49.7 1069.9,58.7 1080.3,58.7" fill="#00ff00"/>
<polygon points="1091.0,47.7 1085.8,56.8 1096.2,56.8" fill="#00ff00"/>
<polygon points="1106.9,45.7 1101.7,54.7 1112.1,54.7" fill="#00ff00"/>
<path d="M229.1 547.3 L233.6 547.3 L238.0 547.4 L242.5 547.4 L246.9 547.5 L251.4 547.5 L255.8 547.5 L260.3 547.6 L264.8 547.6 L269.3 547.6 L273.7 547.6 L278.2 547.6 L282.7 547.6 L287.2 547.6 L291.7 547.6 L296.2 547.6 L300.7 547.6 L305.2 547.6 L309.7 547.5 L314.2 547.5 L318.7 547.5 L323.2 547.5 L327.7 547.4 L332.2 547.4 L336.7 547.4 L341.2 547.3 L345.7 547.3 L350.2 547.3 L354.7 547.2 L359.2 547.2 L363.7 547.2 L368.2 547.1 L372.7 547.1 L377.2 547.1 L381.7 547.0 L386.2 547.0 L390.6 547.0 L395.1 547.0 L399.6 547.0 L404.1 546.9 L408.6 546.9 L413.0 546.9 L417.5 546.9 L422.0 546.9 L426.4 546.9 L430.9 546.9 L435.3 546.9 L439.8 546.9 L444.2 546.9 L448.7 546.9 L453.1 546.9 L457.6 546.9 L462.1 547.0 L466.5 547.0 L471.0 547.0 L475.4 547.0 L479.9 547.0 L484.3 547.0 L488.8 547.1 L493.2 547.1 L497.7 547.1 L502.2 547.1 L506.6 547.1 L511.1 547.2 L515.6 547.2 L520.1 547.2 L524.6 547.2 L529.1 547.2 L533.6 547.3 L538.1 547.3 L542.6 547.3 L547.1 547.3 L551.6 547.3 L556.2 547.3 L560.7 547.3 L565.3 547.3 L569.8 547.3 L574.4 547.3 L579.0 547.3 L583.5 547.3 L588.1 547.3 L592.7 547.3 L597.3 547.3 L601.9 547.2 L606.5 547.1 L611.1 547.0 L615.7 546.8 L620.2 546.6 L624.8 546.3 L629.3 545.9 L633.8 545.4 L638.2 544.9 L642.6 544.2 L646.9 543.4 L651.2 542.6 L655.5 541.5 L659.7 540.4 L663.8 539.1 L667.9 537.7 L671.9 536.1 L675.8 534.3 L679.7 532.4 L683.5 530.4 L687.2 528.2 L690.8 525.8 L694.4 523.4 L697.8 520.8 L701.2 518.1 L704.5 515.3 L707.7 512.4 L710.9 509.4 L713.9 506.3 L716.9 503.0 L719.7 499.8 L722.5 496.4 L725.2 493.0 L727.7 489.4 L730.2 485.9 L732.7 482.2 L735.0 478.5 L737.3 474.7 L739.5 470.9 L741.6 467.0 L743.7 463.1 L745.7 459.1 L747.6 455.1 L749.5 451.0 L751.4 446.9 L753.2 442.8 L754.9 438.6 L756.6 434.4 L758.3 430.2 L759.9 425.9 L761.5 421.6 L763.1 417.3 L764.6 413.0 L766.2 408.7 L767.7 404.4 L769.2 400.1 L770.6 395.7 L772.1 391.4 L773.6 387.1 L775.0 382.8 L776.5 378.4 L777.9 374.1 L779.3 369.8 L780.8 365.5 L782.2 361.2 L783.6 356.9 L785.0 352.6 L786.5 348.3 L787.9 344.0 L789.3 339.7 L790.8 335.4 L792.2 331.2 L793.6 326.9 L795.1 322.6 L796.5 318.4 L798.0 314.1 L799.5 309.9 L800.9 305.6 L802.4 301.4 L803.9 297.2 L805.4 293.0 L807.0 288.8 L808.5 284.6 L810.1 280.4 L811.6 276.2 L813.2 272.0 L814.8 267.9 L816.5 263.7 L818.1 259.6 L819.8 255.5 L821.5 251.4 L823.2 247.3 L824.9 243.2 L826.7 239.1 L828.4 235.0 L830.2 231.0 L832.1 226.9 L833.9 222.9 L835.8 218.9 L837.8 214.9 L839.7 210.9 L841.7 206.9 L843.7 202.9 L845.8 199.0 L847.9 195.1 L850.0 191.2 L852.1 187.3 L854.3 183.4 L856.6 179.5 L858.9 175.7 L861.2 171.8 L863.5 168.0 L865.9 164.2 L868.4 160.4 L870.9 156.7 L873.4 153.0 L876.0 149.3 L878.6 145.6 L881.3 142.1 L884.1 138.5 L886.9 135.0 L889.8 131.6 L892.8 128.3 L895.8 125.0 L898.9 121.8 L902.0 118.7 L905.3 115.7 L908.6 112.8 L912.0 110.0 L915.5 107.3 L919.0 104.7 L922.7 102.2 L926.4 99.8 L930.1 97.5 L934.0 95.2 L937.9 93.1 L941.8 91.0 L945.8 89.0 L949.8 87.1 L953.9 85.3 L958.0 83.5 L962.2 81.8 L966.4 80.1 L970.6 78.6 L974.9 77.0 L979.1 75.6 L983.4 74.1 L987.7 72.8 L992.1 71.5 L996.4 70.2 L1000.8 69.0 L1005.2 67.8 L1009.6 66.7 L1014.0 65.6 L1018.4 64.6 L1022.8 63.6 L1027.3 62.7 L1031.7 61.8 L1036.2 61.0 L1040.6 60.2 L1045.1 59.4 L1049.5 58.7 L1054.0 58.0 L1058.4 57.3 L1062.9 56.7 L1067.3 56.1 L1071.7 55.5 L1076.2 55.0 L1080.6 54.5 L1085.0 54.1 L1089.4 53.6 L1093.7 53.2 L1098.1 52.9 L1102.4 52.5 L1106.8 52.2 L1111.1 51.9 L1115.4 51.6" fill="none" stroke="#0000ff" stroke-width="5.5" stroke-linejoin="round"/>
<polygon points="239.3,552.6 234.1,543.6 244.5,543.6" fill="#0000ff"/>
<polygon points="254.9,552.8 249.7,543.7 260.2,543.7" fill="#0000ff"/>
<polygon points="270.6,552.8 265.4,543.8 275.8,543.8" fill="#0000ff"/>
<polygon points="286.2,552.8 281.0,543.8 291.5,543.8" fill="#0000ff"/>
<polygon points="301.9,552.8 296.7,543.8 307.1,543.8" fill="#0000ff"/>
<polygon points="317.5,552.7 312.3,543.7 322.8,543.7" fill="#0000ff"/>
<polygon points="333.2,552.6 328.0,543.6 338.4,543.6" fill="#0000ff"/>
<polygon points="348.8,552.5 343.6,543.5 354.1,543.5" fill="#0000ff"/>
<polygon points="364.5,552.4 359.3,543.4 369.7,543.4" fill="#0000ff"/>
<polygon points="380.1,552.3 374.9,543.3 385.4,543.3" fill="#0000ff"/>
<polygon points="395.8,552.2 390.6,543.2 401.0,543.2" fill="#0000ff"/>
<polygon points="411.4,552.1 406.2,543.1 416.7,543.1" fill="#0000ff"/>
<polygon points="427.1,552.1 421.9,543.1 432.3,543.1" fill="#0000ff"/>
<polygon points="442.7,552.1 437.5,543.1 448.0,543.1" fill="#0000ff"/>
<polygon points="458.4,552.2 453.2,543.1 463.6,543.1" fill="#0000ff"/>
<polygon points="474.0,552.2 468.8,543.2 479.3,543.2" fill="#0000ff"/>
<polygon points="489.7,552.3 484.5,543.3 494.9,543.3" fill="#0000ff"/>
<polygon points="505.3,552.4 500.1,543.3 510.6,543.3" fill="#0000ff"/>
<polygon points="521.0,552.4 515.8,543.4 526.2,543.4" fill="#0000ff"/>
<polygon points="536.6,552.5 531.4,543.5 541.9,543.5" fill="#0000ff"/>
<polygon points="552.3,552.5 547.1,543.5 557.5,543.5" fill="#0000ff"/>
<polygon points="567.9,552.6 562.7,543.5 573.2,543.5" fill="#0000ff"/>
<polygon points="583.6,552.6 578.4,543.5 588.8,543.5" fill="#0000ff"/>
<polygon points="599.2,552.5 594.0,543.5 604.5,543.5" fill="#0000ff"/>
<polygon points="614.9,552.1 609.7,543.1 620.1,543.1" fill="#0000ff"/>
<polygon points="630.5,551.0 625.3,542.0 635.8,542.0" fill="#0000ff"/>
<polygon points="646.2,548.8 641.0,539.8 651.4,539.8" fill="#0000ff"/>
<polygon points="661.8,545.0 656.6,535.9 667.1,535.9" fill="#0000ff"/>
<polygon points="677.5,538.7 672.3,529.7 682.7,529.7" fill="#0000ff"/>
<polygon points="693.1,529.4 687.9,520.4 698.4,520.4" fill="#0000ff"/>
<polygon points="708.8,516.6 703.6,507.6 714.0,507.6" fill="#0000ff"/>
<polygon points="724.4,499.1 719.2,490.1 729.7,490.1" fill="#0000ff"/>
<polygon points="740.1,475.0 734.9,466.0 745.3,466.0" fill="#0000ff"/>
<polygon points="755.8,441.8 750.5,432.7 761.0,432.7" fill="#0000ff"/>
<polygon points="771.4,398.7 766.2,389.7 776.6,389.7" fill="#0000ff"/>
<polygon points="787.0,351.8 781.8,342.8 792.3,342.8" fill="#0000ff"/>
<polygon points="802.7,305.9 797.5,296.9 807.9,296.9" fill="#0000ff"/>
<polygon points="818.3,264.2 813.1,255.2 823.6,255.2" fill="#0000ff"/>
<polygon points="834.0,228.0 828.8,219.0 839.2,219.0" fill="#0000ff"/>
<polygon points="849.6,197.0 844.4,188.0 854.9,188.0" fill="#0000ff"/>
<polygon points="865.3,170.4 860.1,161.4 870.5,161.4" fill="#0000ff"/>
<polygon points="880.9,147.8 875.7,138.8 886.2,138.8" fill="#0000ff"/>
<polygon points="896.6,129.4 891.4,120.4 901.8,120.4" fill="#0000ff"/>
<polygon points="912.2,115.0 907.0,106.0 917.5,106.0" fill="#0000ff"/>
<polygon points="927.9,104.1 922.7,95.0 933.1,95.0" fill="#0000ff"/>
<polygon points="943.5,95.4 938.3,86.3 948.8,86.3" fill="#0000ff"/>
<polygon points="959.2,88.3 954.0,79.2 964.4,79.2" fill="#0000ff"/>
<polygon points="974.8,82.3 969.6,73.2 980.1,73.2" fill="#0000ff"/>
<polygon points="990.5,77.2 985.3,68.1 995.7,68.1" fill="#0000ff"/>
<polygon points="1006.1,72.8 1000.9,63.8 1011.4,63.8" fill="#0000ff"/>
<polygon points="1021.8,69.1 1016.6,60.1 1027.0,60.1" fill="#0000ff"/>
<polygon points="1037.5,66.0 1032.2,56.9 1042.7,56.9" fill="#0000ff"/>
<polygon points="1053.1,63.3 1047.9,54.3 1058.3,54.3" fill="#0000ff"/>
<polygon points="1068.8,61.1 1063.5,52.1 1074.0,52.1" fill="#0000ff"/>
<polygon points="1084.4,59.4 1079.2,50.3 1089.6,50.3" fill="#0000ff"/>
<polygon points="1100.0,57.9 1094.8,48.9 1105.3,48.9" fill="#0000ff"/>
<path d="M228.7 549.3 L233.2 549.1 L237.7 548.9 L242.3 548.7 L246.8 548.5 L251.3 548.3 L255.8 548.2 L260.3 548.0 L264.8 547.9 L269.3 547.8 L273.8 547.7 L278.3 547.6 L282.8 547.5 L287.2 547.4 L291.7 547.4 L296.2 547.3 L300.7 547.3 L305.2 547.3 L309.6 547.2 L314.1 547.2 L318.6 547.2 L323.0 547.2 L327.5 547.2 L332.0 547.2 L336.4 547.3 L340.9 547.3 L345.3 547.3 L349.8 547.4 L354.2 547.4 L358.7 547.4 L363.1 547.5 L367.6 547.5 L372.0 547.6 L376.5 547.7 L380.9 547.7 L385.4 547.8 L389.8 547.9 L394.3 547.9 L398.7 548.0 L403.2 548.0 L407.6 548.1 L412.1 548.2 L416.5 548.2 L421.0 548.3 L425.4 548.4 L429.9 548.4 L434.3 548.5 L438.8 548.6 L443.2 548.6 L447.7 548.7 L452.2 548.7 L456.6 548.7 L461.1 548.8 L465.5 548.8 L470.0 548.8 L474.5 548.9 L478.9 548.9 L483.4 548.9 L487.9 548.9 L492.3 548.9 L496.8 548.9 L501.3 548.8 L505.8 548.8 L510.2 548.8 L514.7 548.7 L519.2 548.6 L523.7 548.6 L528.2 548.5 L532.7 548.4 L537.2 548.3 L541.7 548.2 L546.2 548.1 L550.7 547.9 L555.3 547.8 L559.8 547.6 L564.3 547.4 L568.8 547.2 L573.4 547.0 L577.9 546.8 L582.4 546.6 L587.0 546.3 L591.5 546.0 L596.1 545.7 L600.6 545.4 L605.1 545.0 L609.6 544.5 L614.1 544.0 L618.6 543.4 L623.0 542.8 L627.4 542.1 L631.8 541.2 L636.1 540.3 L640.4 539.3 L644.6 538.2 L648.8 537.0 L653.0 535.7 L657.0 534.2 L661.1 532.6 L665.0 530.8 L668.9 529.0 L672.7 526.9 L676.5 524.8 L680.1 522.5 L683.7 520.1 L687.3 517.6 L690.7 515.0 L694.1 512.2 L697.3 509.4 L700.5 506.5 L703.6 503.4 L706.6 500.3 L709.5 497.1 L712.3 493.8 L715.0 490.4 L717.7 487.0 L720.2 483.5 L722.7 479.9 L725.1 476.3 L727.5 472.5 L729.7 468.8 L731.9 464.9 L734.0 461.1 L736.1 457.1 L738.1 453.2 L740.1 449.1 L742.0 445.1 L743.8 441.0 L745.6 436.9 L747.4 432.7 L749.1 428.5 L750.8 424.3 L752.5 420.1 L754.1 415.8 L755.7 411.5 L757.3 407.3 L758.8 403.0 L760.4 398.7 L761.9 394.4 L763.4 390.1 L764.9 385.8 L766.4 381.5 L767.9 377.2 L769.4 372.9 L770.8 368.6 L772.3 364.3 L773.8 360.0 L775.2 355.7 L776.7 351.4 L778.1 347.1 L779.5 342.8 L781.0 338.6 L782.4 334.3 L783.9 330.0 L785.3 325.8 L786.8 321.5 L788.2 317.3 L789.7 313.0 L791.2 308.8 L792.7 304.5 L794.2 300.3 L795.7 296.1 L797.2 291.9 L798.7 287.7 L800.2 283.5 L801.8 279.3 L803.3 275.2 L804.9 271.0 L806.5 266.8 L808.1 262.7 L809.8 258.6 L811.4 254.5 L813.1 250.4 L814.8 246.3 L816.5 242.2 L818.3 238.1 L820.1 234.1 L821.9 230.0 L823.7 226.0 L825.5 222.0 L827.4 218.0 L829.3 214.0 L831.3 210.0 L833.3 206.1 L835.3 202.1 L837.3 198.2 L839.4 194.3 L841.5 190.4 L843.7 186.6 L845.9 182.7 L848.1 178.9 L850.4 175.1 L852.7 171.3 L855.0 167.5 L857.4 163.8 L859.9 160.0 L862.4 156.3 L864.9 152.7 L867.5 149.0 L870.1 145.4 L872.8 141.8 L875.6 138.3 L878.4 134.8 L881.3 131.4 L884.2 128.1 L887.2 124.8 L890.3 121.6 L893.4 118.5 L896.6 115.5 L899.9 112.5 L903.2 109.7 L906.6 106.9 L910.2 104.3 L913.7 101.7 L917.4 99.3 L921.1 97.0 L924.9 94.7 L928.8 92.6 L932.7 90.5 L936.6 88.5 L940.6 86.6 L944.7 84.8 L948.8 83.1 L953.0 81.4 L957.1 79.8 L961.4 78.3 L965.6 76.9 L969.9 75.5 L974.2 74.2 L978.5 73.0 L982.9 71.8 L987.3 70.6 L991.7 69.6 L996.1 68.5 L1000.5 67.6 L1005.0 66.7 L1009.4 65.8 L1013.9 65.0 L1018.4 64.2 L1022.9 63.4 L1027.4 62.7 L1031.8 62.0 L1036.3 61.4 L1040.8 60.8 L1045.3 60.2 L1049.8 59.7 L1054.3 59.2 L1058.7 58.7 L1063.2 58.2 L1067.6 57.7 L1072.1 57.3 L1076.5 56.8 L1080.9 56.4 L1085.2 56.0 L1089.6 55.6 L1093.9 55.2 L1098.2 54.8 L1102.5 54.4 L1106.7 54.0 L1110.9 53.6 L1115.1 53.2" fill="none" stroke="#00ffff" stroke-width="5.5" stroke-linejoin="round"/>
<polygon points="237.6,543.2 242.4,548.9 237.6,554.6 232.9,548.9" fill="#00ffff"/>
<polygon points="253.8,542.5 258.6,548.2 253.8,553.9 249.1,548.2" fill="#00ffff"/>
<polygon points="270.0,542.1 274.8,547.8 270.0,553.5 265.3,547.8" fill="#00ffff"/>
<polygon points="286.2,541.8 291.0,547.5 286.2,553.2 281.5,547.5" fill="#00ffff"/>
<polygon points="302.4,541.6 307.2,547.3 302.4,553.0 297.7,547.3" fill="#00ffff"/>
<polygon points="318.6,541.5 323.4,547.2 318.6,552.9 313.9,547.2" fill="#00ffff"/>
<polygon points="334.8,541.6 339.6,547.3 334.8,553.0 330.1,547.3" fill="#00ffff"/>
<polygon points="351.0,541.7 355.8,547.4 351.0,553.1 346.3,547.4" fill="#00ffff"/>
<polygon points="367.2,541.8 372.0,547.5 367.2,553.2 362.5,547.5" fill="#00ffff"/>
<polygon points="383.4,542.1 388.2,547.8 383.4,553.5 378.7,547.8" fill="#00ffff"/>
<polygon points="399.6,542.3 404.4,548.0 399.6,553.7 394.9,548.0" fill="#00ffff"/>
<polygon points="415.8,542.5 420.6,548.2 415.8,553.9 411.1,548.2" fill="#00ffff"/>
<polygon points="432.0,542.8 436.8,548.5 432.0,554.2 427.3,548.5" fill="#00ffff"/>
<polygon points="448.2,543.0 453.0,548.7 448.2,554.4 443.5,548.7" fill="#00ffff"/>
<polygon points="464.4,543.1 469.2,548.8 464.4,554.5 459.7,548.8" fill="#00ffff"/>
<polygon points="480.6,543.2 485.4,548.9 480.6,554.6 475.9,548.9" fill="#00ffff"/>
<polygon points="496.8,543.2 501.6,548.9 496.8,554.6 492.1,548.9" fill="#00ffff"/>
<polygon points="513.0,543.0 517.8,548.7 513.0,554.4 508.2,548.7" fill="#00ffff"/>
<polygon points="529.2,542.8 534.0,548.5 529.2,554.2 524.5,548.5" fill="#00ffff"/>
<polygon points="545.4,542.4 550.2,548.1 545.4,553.8 540.7,548.1" fill="#00ffff"/>
<polygon points="561.6,541.8 566.4,547.5 561.6,553.2 556.9,547.5" fill="#00ffff"/>
<polygon points="577.8,541.1 582.6,546.8 577.8,552.5 573.1,546.8" fill="#00ffff"/>
<polygon points="594.0,540.2 598.8,545.9 594.0,551.6 589.2,545.9" fill="#00ffff"/>
<polygon points="610.2,538.7 615.0,544.4 610.2,550.1 605.5,544.4" fill="#00ffff"/>
<polygon points="626.4,536.5 631.2,542.2 626.4,547.9 621.7,542.2" fill="#00ffff"/>
<polygon points="642.6,533.1 647.4,538.8 642.6,544.5 637.9,538.8" fill="#00ffff"/>
<polygon points="658.8,527.8 663.6,533.5 658.8,539.2 654.1,533.5" fill="#00ffff"/>
<polygon points="675.0,519.9 679.8,525.6 675.0,531.3 670.2,525.6" fill="#00ffff"/>
<polygon points="691.2,508.9 696.0,514.6 691.2,520.3 686.5,514.6" fill="#00ffff"/>
<polygon points="707.4,493.7 712.1,499.4 707.4,505.1 702.6,499.4" fill="#00ffff"/>
<polygon points="723.6,472.9 728.4,478.6 723.6,484.3 718.9,478.6" fill="#00ffff"/>
<polygon points="739.8,444.0 744.6,449.7 739.8,455.4 735.1,449.7" fill="#00ffff"/>
<polygon points="756.0,405.1 760.8,410.8 756.0,416.5 751.2,410.8" fill="#00ffff"/>
<polygon points="772.2,358.9 777.0,364.6 772.2,370.3 767.5,364.6" fill="#00ffff"/>
<polygon points="788.4,311.1 793.1,316.8 788.4,322.5 783.6,316.8" fill="#00ffff"/>
<polygon points="804.6,266.2 809.4,271.9 804.6,277.6 799.9,271.9" fill="#00ffff"/>
<polygon points="820.8,226.7 825.5,232.4 820.8,238.1 816.0,232.4" fill="#00ffff"/>
<polygon points="837.0,193.1 841.8,198.8 837.0,204.5 832.2,198.8" fill="#00ffff"/>
<polygon points="853.2,164.8 858.0,170.5 853.2,176.2 848.5,170.5" fill="#00ffff"/>
<polygon points="869.4,140.7 874.1,146.4 869.4,152.1 864.6,146.4" fill="#00ffff"/>
<polygon points="885.6,120.9 890.4,126.6 885.6,132.3 880.9,126.6" fill="#00ffff"/>
<polygon points="901.8,105.2 906.5,110.9 901.8,116.6 897.0,110.9" fill="#00ffff"/>
<polygon points="918.0,93.2 922.8,98.9 918.0,104.6 913.2,98.9" fill="#00ffff"/>
<polygon points="934.2,84.0 939.0,89.7 934.2,95.4 929.5,89.7" fill="#00ffff"/>
<polygon points="950.4,76.7 955.1,82.4 950.4,88.1 945.6,82.4" fill="#00ffff"/>
<polygon points="966.6,70.9 971.4,76.6 966.6,82.3 961.9,76.6" fill="#00ffff"/>
<polygon points="982.8,66.1 987.5,71.8 982.8,77.5 978.0,71.8" fill="#00ffff"/>
<polygon points="999.0,62.2 1003.8,67.9 999.0,73.6 994.2,67.9" fill="#00ffff"/>
<polygon points="1015.2,59.0 1020.0,64.7 1015.2,70.4 1010.5,64.7" fill="#00ffff"/>
<polygon points="1031.4,56.4 1036.2,62.1 1031.4,67.8 1026.7,62.1" fill="#00ffff"/>
<polygon points="1047.6,54.3 1052.3,60.0 1047.6,65.7 1042.8,60.0" fill="#00ffff"/>
<polygon points="1063.8,52.4 1068.5,58.1 1063.8,63.8 1059.0,58.1" fill="#00ffff"/>
<polygon points="1080.0,50.8 1084.8,56.5 1080.0,62.2 1075.2,56.5" fill="#00ffff"/>
<polygon points="1096.2,49.3 1101.0,55.0 1096.2,60.7 1091.5,55.0" fill="#00ffff"/>
<polygon points="1112.4,47.8 1117.2,53.5 1112.4,59.2 1107.7,53.5" fill="#00ffff"/>
<path d="M228.7 548.7 L233.2 548.4 L237.7 548.1 L242.2 547.8 L246.7 547.6 L251.2 547.4 L255.7 547.2 L260.2 547.0 L264.7 546.8 L269.1 546.7 L273.6 546.5 L278.1 546.4 L282.6 546.3 L287.0 546.2 L291.5 546.1 L296.0 546.1 L300.4 546.0 L304.9 546.0 L309.3 546.0 L313.8 546.0 L318.2 546.0 L322.7 546.0 L327.1 546.0 L331.6 546.0 L336.0 546.1 L340.5 546.1 L344.9 546.2 L349.3 546.2 L353.8 546.3 L358.2 546.3 L362.6 546.4 L367.1 546.5 L371.5 546.6 L375.9 546.7 L380.4 546.7 L384.8 546.8 L389.2 546.9 L393.6 547.0 L398.1 547.1 L402.5 547.2 L406.9 547.3 L411.4 547.3 L415.8 547.4 L420.2 547.5 L424.7 547.6 L429.1 547.6 L433.5 547.7 L438.0 547.8 L442.4 547.8 L446.8 547.9 L451.3 547.9 L455.7 547.9 L460.2 547.9 L464.6 547.9 L469.1 547.9 L473.5 547.9 L478.0 547.9 L482.4 547.9 L486.9 547.8 L491.3 547.8 L495.8 547.7 L500.2 547.6 L504.7 547.5 L509.2 547.4 L513.7 547.3 L518.1 547.1 L522.6 547.0 L527.1 546.8 L531.6 546.6 L536.1 546.4 L540.6 546.1 L545.1 545.9 L549.6 545.6 L554.1 545.3 L558.6 545.0 L563.1 544.6 L567.6 544.2 L572.2 543.8 L576.7 543.4 L581.2 543.0 L585.7 542.5 L590.2 541.9 L594.7 541.3 L599.2 540.7 L603.6 540.0 L608.0 539.2 L612.4 538.4 L616.7 537.5 L621.1 536.6 L625.3 535.6 L629.6 534.5 L633.8 533.3 L637.9 532.0 L642.0 530.6 L646.0 529.2 L650.0 527.6 L653.9 526.0 L657.8 524.2 L661.5 522.4 L665.2 520.4 L668.9 518.3 L672.4 516.1 L675.9 513.7 L679.3 511.2 L682.6 508.6 L685.8 505.9 L688.9 503.0 L691.9 500.0 L694.8 496.8 L697.6 493.5 L700.3 490.1 L702.9 486.6 L705.4 482.9 L707.9 479.2 L710.3 475.4 L712.6 471.5 L714.9 467.6 L717.0 463.5 L719.2 459.5 L721.2 455.4 L723.2 451.3 L725.2 447.1 L727.1 443.0 L729.0 438.9 L730.8 434.7 L732.6 430.6 L734.4 426.5 L736.2 422.3 L737.9 418.2 L739.5 414.1 L741.2 410.0 L742.8 405.8 L744.4 401.7 L746.0 397.5 L747.6 393.4 L749.1 389.2 L750.7 385.0 L752.2 380.9 L753.7 376.7 L755.2 372.5 L756.7 368.3 L758.2 364.1 L759.7 359.8 L761.2 355.6 L762.7 351.4 L764.1 347.2 L765.6 342.9 L767.1 338.7 L768.5 334.5 L770.0 330.2 L771.5 326.0 L772.9 321.8 L774.4 317.5 L775.9 313.3 L777.4 309.1 L778.8 304.9 L780.3 300.6 L781.9 296.4 L783.4 292.2 L784.9 288.0 L786.5 283.8 L788.0 279.6 L789.6 275.4 L791.2 271.3 L792.8 267.1 L794.4 263.0 L796.0 258.8 L797.7 254.7 L799.4 250.6 L801.1 246.4 L802.8 242.3 L804.6 238.3 L806.4 234.2 L808.2 230.1 L810.0 226.1 L811.9 222.1 L813.8 218.1 L815.7 214.1 L817.7 210.1 L819.6 206.2 L821.7 202.3 L823.7 198.4 L825.8 194.5 L828.0 190.6 L830.1 186.8 L832.4 183.0 L834.6 179.2 L836.9 175.4 L839.2 171.7 L841.6 167.9 L844.1 164.2 L846.5 160.6 L849.1 157.0 L851.6 153.3 L854.3 149.8 L856.9 146.2 L859.7 142.7 L862.4 139.3 L865.3 135.9 L868.2 132.5 L871.1 129.2 L874.2 126.0 L877.2 122.9 L880.4 119.8 L883.6 116.8 L886.9 113.9 L890.3 111.2 L893.7 108.5 L897.2 105.9 L900.8 103.4 L904.5 101.0 L908.2 98.8 L912.0 96.7 L915.9 94.6 L919.8 92.7 L923.8 90.8 L927.9 89.1 L932.0 87.4 L936.1 85.8 L940.3 84.3 L944.5 82.8 L948.7 81.4 L953.0 80.1 L957.3 78.8 L961.6 77.6 L965.9 76.4 L970.3 75.2 L974.6 74.2 L979.0 73.1 L983.4 72.1 L987.8 71.2 L992.2 70.2 L996.6 69.4 L1001.0 68.5 L1005.4 67.7 L1009.9 66.9 L1014.3 66.2 L1018.8 65.5 L1023.2 64.8 L1027.7 64.2 L1032.1 63.6 L1036.5 63.0 L1041.0 62.4 L1045.4 61.9 L1049.9 61.3 L1054.3 60.8 L1058.7 60.4 L1063.2 59.9 L1067.6 59.5 L1072.0 59.0 L1076.4 58.6 L1080.8 58.2 L1085.1 57.9 L1089.5 57.5 L1093.9 57.1 L1098.2 56.8 L1102.5 56.4 L1106.8 56.1 L1111.1 55.7 L1115.4 55.4" fill="none" stroke="#ff00ff" stroke-width="5.5" stroke-linejoin="round"/>
<polygon points="241.1,547.6 250.1,542.4 250.1,552.8" fill="#ff00ff"/>
<polygon points="256.5,546.9 265.5,541.7 265.5,552.1" fill="#ff00ff"/>
<polygon points="271.9,546.4 280.9,541.2 280.9,551.7" fill="#ff00ff"/>
<polygon points="287.3,546.1 296.3,540.9 296.3,551.4" fill="#ff00ff"/>
<polygon points="302.7,546.0 311.7,540.8 311.7,551.2" fill="#ff00ff"/>
<polygon points="318.1,546.0 327.1,540.8 327.1,551.2" fill="#ff00ff"/>
<polygon points="333.5,546.1 342.5,540.9 342.5,551.3" fill="#ff00ff"/>
<polygon points="348.9,546.3 357.9,541.1 357.9,551.5" fill="#ff00ff"/>
<polygon points="364.3,546.5 373.3,541.3 373.3,551.8" fill="#ff00ff"/>
<polygon points="379.7,546.8 388.7,541.6 388.7,552.1" fill="#ff00ff"/>
<polygon points="395.1,547.1 404.1,541.9 404.1,552.4" fill="#ff00ff"/>
<polygon points="410.5,547.4 419.5,542.2 419.5,552.6" fill="#ff00ff"/>
<polygon points="425.9,547.7 434.9,542.4 434.9,552.9" fill="#ff00ff"/>
<polygon points="441.3,547.8 450.3,542.6 450.3,553.1" fill="#ff00ff"/>
<polygon points="456.7,547.9 465.7,542.7 465.7,553.2" fill="#ff00ff"/>
<polygon points="472.1,547.9 481.1,542.7 481.1,553.1" fill="#ff00ff"/>
<polygon points="487.5,547.8 496.5,542.5 496.5,553.0" fill="#ff00ff"/>
<polygon points="502.9,547.4 511.9,542.2 511.9,552.7" fill="#ff00ff"/>
<polygon points="518.3,546.9 527.3,541.7 527.3,552.2" fill="#ff00ff"/>
<polygon points="533.7,546.2 542.7,541.0 542.7,551.4" fill="#ff00ff"/>
<polygon points="549.1,545.3 558.1,540.0 558.1,550.5" fill="#ff00ff"/>
<polygon points="564.5,544.1 573.5,538.8 573.5,549.3" fill="#ff00ff"/>
<polygon points="579.9,542.5 588.9,537.3 588.9,547.7" fill="#ff00ff"/>
<polygon points="595.3,540.5 604.3,535.2 604.3,545.7" fill="#ff00ff"/>
<polygon points="610.7,537.7 619.7,532.5 619.7,542.9" fill="#ff00ff"/>
<polygon points="626.1,534.0 635.1,528.7 635.1,539.2" fill="#ff00ff"/>
<polygon points="641.5,528.9 650.5,523.7 650.5,534.2" fill="#ff00ff"/>
<polygon points="656.9,522.1 665.9,516.8 665.9,527.3" fill="#ff00ff"/>
<polygon points="672.3,512.5 681.3,507.3 681.3,517.8" fill="#ff00ff"/>
<polygon points="687.7,498.9 696.7,493.6 696.7,504.1" fill="#ff00ff"/>
<polygon points="703.1,478.6 712.1,473.4 712.1,483.8" fill="#ff00ff"/>
<polygon points="718.5,450.3 727.5,445.1 727.5,455.5" fill="#ff00ff"/>
<polygon points="733.9,415.2 742.9,409.9 742.9,420.4" fill="#ff00ff"/>
<polygon points="749.3,374.5 758.3,369.3 758.3,379.8" fill="#ff00ff"/>
<polygon points="764.7,330.5 773.7,325.3 773.7,335.7" fill="#ff00ff"/>
<polygon points="780.1,287.0 789.1,281.7 789.1,292.2" fill="#ff00ff"/>
<polygon points="795.5,247.4 804.5,242.2 804.5,252.6" fill="#ff00ff"/>
<polygon points="810.9,213.3 819.9,208.1 819.9,218.5" fill="#ff00ff"/>
<polygon points="826.3,184.4 835.3,179.2 835.3,189.7" fill="#ff00ff"/>
<polygon points="841.7,160.1 850.7,154.8 850.7,165.3" fill="#ff00ff"/>
<polygon points="857.1,139.4 866.1,134.2 866.1,144.7" fill="#ff00ff"/>
<polygon points="872.5,122.4 881.5,117.2 881.5,127.7" fill="#ff00ff"/>
<polygon points="887.9,108.9 896.9,103.7 896.9,114.2" fill="#ff00ff"/>
<polygon points="903.3,98.6 912.3,93.4 912.3,103.9" fill="#ff00ff"/>
<polygon points="918.7,90.8 927.7,85.6 927.7,96.0" fill="#ff00ff"/>
<polygon points="934.1,84.6 943.1,79.4 943.1,89.8" fill="#ff00ff"/>
<polygon points="949.5,79.6 958.5,74.3 958.5,84.8" fill="#ff00ff"/>
<polygon points="964.9,75.3 973.9,70.1 973.9,80.5" fill="#ff00ff"/>
<polygon points="980.3,71.7 989.3,66.4 989.3,76.9" fill="#ff00ff"/>
<polygon points="995.7,68.5 1004.7,63.3 1004.7,73.8" fill="#ff00ff"/>
<polygon points="1011.1,65.9 1020.1,60.7 1020.1,71.1" fill="#ff00ff"/>
<polygon points="1026.5,63.6 1035.5,58.4 1035.5,68.8" fill="#ff00ff"/>
<polygon points="1041.9,61.7 1050.9,56.4 1050.9,66.9" fill="#ff00ff"/>
<polygon points="1057.3,60.0 1066.3,54.8 1066.3,65.2" fill="#ff00ff"/>
<polygon points="1072.7,58.5 1081.7,53.3 1081.7,63.7" fill="#ff00ff"/>
<polygon points="1088.1,57.2 1097.1,51.9 1097.1,62.4" fill="#ff00ff"/>
<polygon points="1103.5,55.9 1112.5,50.7 1112.5,61.1" fill="#ff00ff"/>
<path d="M228.8 545.7 L233.3 546.0 L237.8 546.2 L242.2 546.4 L246.7 546.6 L251.2 546.7 L255.6 546.8 L260.1 546.9 L264.5 547.0 L268.9 547.0 L273.4 547.0 L277.8 547.0 L282.2 547.0 L286.7 547.0 L291.1 546.9 L295.5 546.9 L299.9 546.8 L304.3 546.7 L308.7 546.6 L313.2 546.5 L317.6 546.4 L322.0 546.3 L326.4 546.2 L330.8 546.0 L335.2 545.9 L339.6 545.8 L344.0 545.6 L348.4 545.5 L352.8 545.4 L357.2 545.2 L361.6 545.1 L366.0 545.0 L370.4 544.9 L374.8 544.8 L379.3 544.7 L383.7 544.6 L388.1 544.5 L392.5 544.5 L396.9 544.4 L401.3 544.4 L405.8 544.4 L410.2 544.4 L414.6 544.4 L419.0 544.5 L423.5 544.5 L427.9 544.6 L432.3 544.6 L436.8 544.7 L441.2 544.7 L445.7 544.8 L450.1 544.9 L454.5 544.9 L459.0 545.0 L463.4 545.0 L467.9 545.1 L472.3 545.1 L476.8 545.2 L481.2 545.2 L485.7 545.2 L490.1 545.2 L494.6 545.1 L499.0 545.1 L503.4 545.0 L507.9 544.9 L512.3 544.8 L516.8 544.7 L521.2 544.5 L525.7 544.3 L530.1 544.1 L534.6 543.8 L539.0 543.5 L543.4 543.2 L547.9 542.8 L552.3 542.4 L556.8 542.0 L561.2 541.5 L565.6 540.9 L570.1 540.4 L574.5 539.7 L578.9 539.0 L583.3 538.3 L587.6 537.5 L592.0 536.6 L596.3 535.6 L600.6 534.5 L604.8 533.4 L609.0 532.1 L613.1 530.8 L617.2 529.3 L621.3 527.8 L625.3 526.1 L629.2 524.3 L633.0 522.4 L636.8 520.3 L640.5 518.1 L644.1 515.8 L647.7 513.4 L651.1 510.8 L654.5 508.1 L657.9 505.4 L661.1 502.5 L664.3 499.6 L667.4 496.5 L670.4 493.4 L673.3 490.2 L676.2 487.0 L679.0 483.6 L681.7 480.3 L684.4 476.8 L686.9 473.3 L689.4 469.8 L691.9 466.2 L694.3 462.6 L696.6 458.9 L698.8 455.2 L701.0 451.4 L703.2 447.6 L705.3 443.7 L707.3 439.8 L709.3 435.9 L711.2 432.0 L713.1 428.0 L715.0 424.0 L716.8 419.9 L718.6 415.8 L720.4 411.7 L722.1 407.6 L723.8 403.5 L725.4 399.3 L727.1 395.2 L728.7 391.0 L730.3 386.8 L731.8 382.6 L733.4 378.4 L734.9 374.1 L736.5 369.9 L738.0 365.7 L739.5 361.4 L741.0 357.2 L742.5 353.0 L744.0 348.7 L745.5 344.5 L746.9 340.2 L748.4 336.0 L749.9 331.7 L751.4 327.5 L752.9 323.2 L754.3 319.0 L755.8 314.8 L757.3 310.5 L758.8 306.3 L760.3 302.1 L761.8 297.9 L763.3 293.7 L764.8 289.5 L766.4 285.3 L767.9 281.1 L769.5 277.0 L771.1 272.8 L772.7 268.7 L774.3 264.5 L775.9 260.4 L777.6 256.3 L779.3 252.2 L781.0 248.2 L782.7 244.1 L784.4 240.1 L786.2 236.0 L788.0 232.0 L789.8 228.0 L791.7 224.1 L793.6 220.1 L795.5 216.2 L797.4 212.3 L799.4 208.4 L801.5 204.5 L803.5 200.7 L805.6 196.9 L807.7 193.1 L809.9 189.3 L812.1 185.6 L814.4 181.8 L816.7 178.2 L819.0 174.5 L821.4 170.9 L823.8 167.3 L826.3 163.7 L828.9 160.1 L831.4 156.6 L834.1 153.2 L836.8 149.7 L839.5 146.3 L842.3 142.9 L845.2 139.6 L848.1 136.3 L851.0 133.0 L854.1 129.8 L857.2 126.6 L860.3 123.5 L863.5 120.5 L866.8 117.5 L870.1 114.6 L873.5 111.8 L876.9 109.0 L880.4 106.3 L883.9 103.7 L887.6 101.2 L891.2 98.9 L895.0 96.6 L898.8 94.4 L902.6 92.3 L906.5 90.4 L910.5 88.5 L914.5 86.8 L918.6 85.1 L922.7 83.5 L926.8 82.1 L931.0 80.7 L935.3 79.4 L939.5 78.2 L943.8 77.1 L948.1 76.0 L952.5 75.0 L956.9 74.1 L961.2 73.3 L965.6 72.5 L970.0 71.8 L974.4 71.1 L978.9 70.5 L983.3 69.9 L987.7 69.4 L992.2 68.9 L996.6 68.4 L1001.1 68.0 L1005.5 67.6 L1010.0 67.3 L1014.4 67.0 L1018.9 66.7 L1023.4 66.4 L1027.8 66.2 L1032.3 65.9 L1036.7 65.7 L1041.2 65.5 L1045.6 65.3 L1050.1 65.1 L1054.5 64.9 L1058.9 64.7 L1063.4 64.5 L1067.8 64.3 L1072.2 64.1 L1076.6 63.8 L1080.9 63.6 L1085.3 63.3 L1089.7 63.0 L1094.0 62.7 L1098.3 62.4 L1102.6 62.0 L1106.9 61.6 L1111.2 61.1 L1115.4 60.7" fill="none" stroke="#000080" stroke-width="5.5" stroke-linejoin="round"/>
<polygon points="243.7,546.2 234.6,541.0 234.6,551.5" fill="#000080"/>
<polygon points="263.2,546.9 254.2,541.6 254.2,552.1" fill="#000080"/>
<polygon points="282.8,547.0 273.7,541.8 273.7,552.3" fill="#000080"/>
<polygon points="302.3,546.8 293.3,541.6 293.3,552.1" fill="#000080"/>
<polygon points="321.9,546.4 312.8,541.2 312.8,551.6" fill="#000080"/>
<polygon points="341.4,545.9 332.4,540.6 332.4,551.1" fill="#000080"/>
<polygon points="361.0,545.3 351.9,540.0 351.9,550.5" fill="#000080"/>
<polygon points="380.5,544.8 371.5,539.5 371.5,550.0" fill="#000080"/>
<polygon points="400.1,544.5 391.0,539.2 391.0,549.7" fill="#000080"/>
<polygon points="419.6,544.4 410.6,539.2 410.6,549.7" fill="#000080"/>
<polygon points="439.2,544.6 430.1,539.4 430.1,549.9" fill="#000080"/>
<polygon points="458.7,544.9 449.7,539.7 449.7,550.1" fill="#000080"/>
<polygon points="478.3,545.1 469.2,539.9 469.2,550.4" fill="#000080"/>
<polygon points="497.8,545.1 488.8,539.9 488.8,550.4" fill="#000080"/>
<polygon points="517.4,544.8 508.3,539.6 508.3,550.0" fill="#000080"/>
<polygon points="536.9,544.0 527.9,538.7 527.9,549.2" fill="#000080"/>
<polygon points="556.5,542.5 547.5,537.3 547.5,547.7" fill="#000080"/>
<polygon points="576.0,540.3 567.0,535.0 567.0,545.5" fill="#000080"/>
<polygon points="595.6,536.9 586.6,531.7 586.6,542.1" fill="#000080"/>
<polygon points="615.1,531.8 606.1,526.6 606.1,537.1" fill="#000080"/>
<polygon points="634.7,524.2 625.6,518.9 625.6,529.4" fill="#000080"/>
<polygon points="654.2,512.4 645.2,507.2 645.2,517.6" fill="#000080"/>
<polygon points="673.8,495.3 664.8,490.1 664.8,500.5" fill="#000080"/>
<polygon points="693.3,471.7 684.3,466.5 684.3,476.9" fill="#000080"/>
<polygon points="712.9,439.2 703.9,433.9 703.9,444.4" fill="#000080"/>
<polygon points="732.4,394.8 723.4,389.6 723.4,400.1" fill="#000080"/>
<polygon points="752.0,340.8 743.0,335.5 743.0,346.0" fill="#000080"/>
<polygon points="771.5,285.6 762.5,280.3 762.5,290.8" fill="#000080"/>
<polygon points="791.1,236.8 782.1,231.6 782.1,242.1" fill="#000080"/>
<polygon points="810.6,197.2 801.6,192.0 801.6,202.5" fill="#000080"/>
<polygon points="830.2,165.7 821.2,160.5 821.2,170.9" fill="#000080"/>
<polygon points="849.7,140.4 840.7,135.1 840.7,145.6" fill="#000080"/>
<polygon points="869.3,120.0 860.2,114.8 860.2,125.2" fill="#000080"/>
<polygon points="888.8,104.0 879.8,98.8 879.8,109.2" fill="#000080"/>
<polygon points="908.4,92.0 899.4,86.8 899.4,97.3" fill="#000080"/>
<polygon points="927.9,83.5 918.9,78.3 918.9,88.8" fill="#000080"/>
<polygon points="947.5,77.5 938.5,72.3 938.5,82.7" fill="#000080"/>
<polygon points="967.0,73.2 958.0,68.0 958.0,78.4" fill="#000080"/>
<polygon points="986.6,70.1 977.5,64.9 977.5,75.4" fill="#000080"/>
<polygon points="1006.1,68.0 997.1,62.8 997.1,73.3" fill="#000080"/>
<polygon points="1025.7,66.6 1016.7,61.4 1016.7,71.8" fill="#000080"/>
<polygon points="1045.2,65.6 1036.2,60.3 1036.2,70.8" fill="#000080"/>
<polygon points="1064.8,64.7 1055.8,59.4 1055.8,69.9" fill="#000080"/>
<polygon points="1084.3,63.7 1075.3,58.5 1075.3,68.9" fill="#000080"/>
<polygon points="1103.9,62.3 1094.9,57.1 1094.9,67.6" fill="#000080"/></g>
<line x1="212.5" y1="45.5" x2="229.5" y2="45.5" stroke="#000" stroke-width="7" stroke-linecap="round"/>
<line x1="212.5" y1="170.3" x2="229.5" y2="170.3" stroke="#000" stroke-width="7" stroke-linecap="round"/>
<line x1="212.5" y1="296.0" x2="229.5" y2="296.0" stroke="#000" stroke-width="7" stroke-linecap="round"/>
<line x1="212.5" y1="421.5" x2="229.5" y2="421.5" stroke="#000" stroke-width="7" stroke-linecap="round"/>
<line x1="212.5" y1="546.4" x2="229.5" y2="546.4" stroke="#000" stroke-width="7" stroke-linecap="round"/>
<line x1="377.5" y1="572.5" x2="377.5" y2="587.5" stroke="#000" stroke-width="7" stroke-linecap="round"/>
<line x1="674.5" y1="572.5" x2="674.5" y2="587.5" stroke="#000" stroke-width="7" stroke-linecap="round"/>
<line x1="970.4" y1="572.5" x2="970.4" y2="587.5" stroke="#000" stroke-width="7" stroke-linecap="round"/>
<line x1="203.7" y1="848.9" x2="942" y2="1330.8" stroke="#000" stroke-width="6" stroke-dasharray="30.5 41.4" stroke-linecap="round"/>
<path d="M250.5 830.5 h34 M267.5 813.5 v34" stroke="#ff0000" stroke-width="5" stroke-linecap="round"/>
<path d="M401.5 1060.5 h34 M418.5 1043.5 v34" stroke="#ff0000" stroke-width="5" stroke-linecap="round"/>
<path d="M497.4 1163.7 h34 M514.4 1146.7 v34" stroke="#ff0000" stroke-width="5" stroke-linecap="round"/>
<path d="M559.4 1209.1 h34 M576.4 1192.1 v34" stroke="#ff0000" stroke-width="5" stroke-linecap="round"/>
<path d="M666.3 1259.9 h34 M683.3 1242.9 v34" stroke="#ff0000" stroke-width="5" stroke-linecap="round"/>
<path d="M787.3 1282.3 h34 M804.3 1265.3 v34" stroke="#ff0000" stroke-width="5" stroke-linecap="round"/>
<path d="M926.5 1289.3 h34 M943.5 1272.3 v34" stroke="#ff0000" stroke-width="5" stroke-linecap="round"/>
<circle cx="266.0" cy="889.5" r="14.8" fill="#000"/>
<circle cx="418.3" cy="985.1" r="14.8" fill="#000"/>
<circle cx="513.3" cy="1052.2" r="14.8" fill="#000"/>
<circle cx="576.2" cy="1094.6" r="14.8" fill="#000"/>
<circle cx="682.3" cy="1168.7" r="14.8" fill="#000"/>
<circle cx="803.2" cy="1235.5" r="14.8" fill="#000"/>
<circle cx="941.9" cy="1329.7" r="14.8" fill="#000"/>
<line x1="395.5" y1="989.4" x2="208" y2="989.4" stroke="#000" stroke-width="4.8" stroke-linecap="round"/>
<polygon points="194.2,989.4 211.5,984 211.5,994.8" fill="#000"/>
<line x1="824.5" y1="1275.3" x2="978.5" y2="1232.4" stroke="#000" stroke-width="5" stroke-linecap="round"/>
<polygon points="993.0,1228.4 978.1,1238.2 975.1,1227.6" fill="#000"/>
<rect x="181.5" y="804.5" width="827" height="551.5" fill="none" stroke="#000" stroke-width="7" stroke-linejoin="round"/>
<line x1="164.5" y1="896.4" x2="181.5" y2="896.4" stroke="#000" stroke-width="6.5" stroke-linecap="round"/>
<line x1="173.5" y1="1049.5" x2="181.5" y2="1049.5" stroke="#000" stroke-width="6.5" stroke-linecap="round"/>
<line x1="173.5" y1="1202.5" x2="181.5" y2="1202.5" stroke="#000" stroke-width="6.5" stroke-linecap="round"/>
<line x1="164.5" y1="1356.0" x2="181.5" y2="1356.0" stroke="#000" stroke-width="6.5" stroke-linecap="round"/>
<line x1="990.3" y1="847.5" x2="1008.5" y2="847.5" stroke="#000" stroke-width="6.5" stroke-linecap="round"/>
<line x1="990.3" y1="1289.0" x2="1008.5" y2="1289.0" stroke="#000" stroke-width="6.5" stroke-linecap="round"/>
<line x1="181.5" y1="1356" x2="181.5" y2="1372" stroke="#000" stroke-width="7" stroke-linecap="round"/>
<line x1="697.4" y1="1356" x2="697.4" y2="1372" stroke="#000" stroke-width="7" stroke-linecap="round"/>
<g transform="translate(94.73 63.15) scale(0.6290 0.6479)"><text x="0" y="0" font-size="100" font-family='"Liberation Sans", sans-serif'>200</text></g>
<path transform="translate(95.47 187.90) scale(0.03019 -0.03064)" d="M763 0L583 0L583 1147C540 1106 483 1064 413 1023C343 982 280 951 223 930L223 1104C324 1151 412 1208 487 1276C562 1344 615 1410 646 1472L763 1472Z" fill="#000"/>
<g transform="translate(129.28 188.15) scale(0.6337 0.6479)"><text x="0" y="0" font-size="100" font-family='"Liberation Sans", sans-serif'>50</text></g>
<path transform="translate(95.43 313.00) scale(0.03037 -0.03064)" d="M763 0L583 0L583 1147C540 1106 483 1064 413 1023C343 982 280 951 223 930L223 1104C324 1151 412 1208 487 1276C562 1344 615 1410 646 1472L763 1472Z" fill="#000"/>
<g transform="translate(129.57 313.15) scale(0.6319 0.6493)"><text x="0" y="0" font-size="100" font-family='"Liberation Sans", sans-serif'>00</text></g>
<g transform="translate(129.58 439.35) scale(0.6318 0.6493)"><text x="0" y="0" font-size="100" font-family='"Liberation Sans", sans-serif'>50</text></g>
<g transform="translate(165.76 564.65) scale(0.6105 0.6484)"><text x="0" y="0" font-size="100" font-family='"Liberation Sans", sans-serif'>0</text></g>
<g transform="translate(341.84 649.36) scale(0.6275 0.6366)"><text x="0" y="0" font-size="100" font-family='"Liberation Sans", sans-serif'>20</text></g>
<g transform="translate(638.08 649.20) scale(0.6185 0.6343)"><text x="0" y="0" font-size="100" font-family='"Liberation Sans", sans-serif'>24</text></g>
<g transform="translate(934.71 649.36) scale(0.6324 0.6366)"><text x="0" y="0" font-size="100" font-family='"Liberation Sans", sans-serif'>28</text></g>
<g transform="translate(727.21 730.78) scale(0.8335 0.8566)"><text x="0" y="0" font-size="100" font-family='"Liberation Sans", sans-serif'>T</text></g>
<g transform="translate(800.91 730.69) scale(0.7365 0.8053)"><text x="0" y="0" font-size="100" font-family='"Liberation Sans", sans-serif'>(</text></g>
<g transform="translate(826.60 731.20) scale(0.8761 0.8594)"><text x="0" y="0" font-size="100" font-family='"Liberation Sans", sans-serif'>K</text></g>
<g transform="translate(888.45 730.69) scale(0.7535 0.8053)"><text x="0" y="0" font-size="100" font-family='"Liberation Sans", sans-serif'>)</text></g>
<g transform="translate(76.44 465.98) rotate(-90) scale(0.8613 0.8553)"><text x="0" y="0" font-size="100" font-family='"Liberation Sans", sans-serif'>R</text></g>
<g transform="translate(76.02 383.05) rotate(-90) scale(0.7134 0.8085)"><text x="0" y="0" font-size="100" font-family='"Liberation Sans", sans-serif'>(</text></g>
<g transform="translate(75.79 356.63) rotate(-90) scale(0.9077 0.8536)"><text x="0" y="0" font-size="100" font-family='"Liberation Serif", serif'>&#937;</text></g>
<g transform="translate(76.02 289.72) rotate(-90) scale(0.7342 0.8085)"><text x="0" y="0" font-size="100" font-family='"Liberation Sans", sans-serif'>)</text></g>
<g transform="translate(922.74 284.36) scale(1.1968 1.3160)"><text x="0" y="0" font-size="100" font-family='"Liberation Sans", sans-serif'>(</text></g>
<g transform="translate(966.04 284.55) scale(1.2673 1.3066)"><text x="0" y="0" font-size="100" font-family='"Liberation Sans", sans-serif'>a</text></g>
<g transform="translate(1050.75 284.36) scale(1.2056 1.3160)"><text x="0" y="0" font-size="100" font-family='"Liberation Sans", sans-serif'>)</text></g>
<path transform="translate(231.51 218.60) scale(0.02778 -0.02765)" d="M763 0L583 0L583 1147C540 1106 483 1064 413 1023C343 982 280 951 223 930L223 1104C324 1151 412 1208 487 1276C562 1344 615 1410 646 1472L763 1472Z" fill="#000"/>
<g transform="translate(257.53 218.42) scale(0.5434 0.5835)"><text x="0" y="0" font-size="100" font-family='"Liberation Sans", sans-serif'>0</text></g>
<g transform="translate(282.83 218.42) scale(0.5413 0.5835)"><text x="0" y="0" font-size="100" font-family='"Liberation Sans", sans-serif'>0</text></g>
<g transform="translate(256.84 431.41) scale(0.5500 0.5886)"><text x="0" y="0" font-size="100" font-family='"Liberation Sans", sans-serif'>5</text></g>
<g transform="translate(282.64 431.42) scale(0.5392 0.5849)"><text x="0" y="0" font-size="100" font-family='"Liberation Sans", sans-serif'>0</text></g>
<g transform="translate(374.92 490.70) scale(0.5907 0.5843)"><text x="0" y="0" font-size="100" font-family='"Liberation Sans", sans-serif'>2</text></g>
<g transform="translate(402.67 490.42) scale(0.5649 0.5843)"><text x="0" y="0" font-size="100" font-family='"Liberation Sans", sans-serif'>5</text></g>
<g transform="translate(525.57 490.70) scale(0.6017 0.5843)"><text x="0" y="0" font-size="100" font-family='"Liberation Sans", sans-serif'>2</text></g>
<g transform="translate(552.18 490.42) scale(0.5708 0.5803)"><text x="0" y="0" font-size="100" font-family='"Liberation Sans", sans-serif'>6</text></g>
<path transform="translate(116.21 912.80) scale(0.03222 -0.02976)" d="M763 0L583 0L583 1147C540 1106 483 1064 413 1023C343 982 280 951 223 930L223 1104C324 1151 412 1208 487 1276C562 1344 615 1410 646 1472L763 1472Z" fill="#000"/>
<g transform="translate(116.38 1372.17) scale(0.6294 0.6272)"><text x="0" y="0" font-size="100" font-family='"Liberation Sans", sans-serif'>0</text></g>
<path transform="translate(1023.85 864.80) scale(0.03296 -0.02989)" d="M763 0L583 0L583 1147C540 1106 483 1064 413 1023C343 982 280 951 223 930L223 1104C324 1151 412 1208 487 1276C562 1344 615 1410 646 1472L763 1472Z" fill="#000"/>
<g transform="translate(1025.03 1305.87) scale(0.6168 0.6272)"><text x="0" y="0" font-size="100" font-family='"Liberation Sans", sans-serif'>0</text></g>
<g transform="translate(144.62 1432.78) scale(0.6511 0.6197)"><text x="0" y="0" font-size="100" font-family='"Liberation Sans", sans-serif'>25</text></g>
<g transform="translate(661.93 1432.58) scale(0.6287 0.6225)"><text x="0" y="0" font-size="100" font-family='"Liberation Sans", sans-serif'>26</text></g>
<g transform="translate(363.58 1481.67) scale(0.8459 0.8682)"><text x="0" y="0" font-size="100" font-family='"Liberation Sans", sans-serif'>T</text></g>
<g transform="translate(437.24 1480.62) scale(0.7633 0.8181)"><text x="0" y="0" font-size="100" font-family='"Liberation Sans", sans-serif'>(</text></g>
<g transform="translate(463.85 1482.10) scale(0.8568 0.8710)"><text x="0" y="0" font-size="100" font-family='"Liberation Sans", sans-serif'>K</text></g>
<g transform="translate(524.45 1480.62) scale(0.7535 0.8181)"><text x="0" y="0" font-size="100" font-family='"Liberation Sans", sans-serif'>)</text></g>
<g transform="translate(239.68 1270.09) scale(1.2389 1.3053)"><text x="0" y="0" font-size="100" font-family='"Liberation Sans", sans-serif'>(</text></g>
<g transform="translate(284.99 1272.00) scale(1.3488 1.3315)"><text x="0" y="0" font-size="100" font-family='"Liberation Sans", sans-serif'>b</text></g>
<g transform="translate(366.98 1270.09) scale(1.2636 1.3053)"><text x="0" y="0" font-size="100" font-family='"Liberation Sans", sans-serif'>)</text></g>
<g transform="translate(95.70 1328.48) rotate(-90) scale(0.7642 0.8478)"><text x="0" y="0" font-size="100" font-family='"Liberation Sans", sans-serif'>I</text></g>
<g transform="translate(114.24 1307.57) rotate(-90) scale(0.6546 0.6444)"><text x="0" y="0" font-size="100" font-family='"Liberation Sans", sans-serif'>d</text></g>
<g transform="translate(62.66 1271.75) rotate(-90) scale(0.6650 0.6419)"><text x="0" y="0" font-size="100" font-family='"Liberation Sans", sans-serif'>2/3</text></g>
<g transform="translate(95.29 1154.95) rotate(-90) scale(0.6981 0.7957)"><text x="0" y="0" font-size="100" font-family='"Liberation Sans", sans-serif'>(</text></g>
<g transform="translate(96.00 1127.67) rotate(-90) scale(0.8329 0.8259)"><text x="0" y="0" font-size="100" font-family='"Liberation Sans", sans-serif'>m</text></g>
<g transform="translate(96.00 1058.95) rotate(-90) scale(0.8198 0.8565)"><text x="0" y="0" font-size="100" font-family='"Liberation Sans", sans-serif'>A</text></g>
<g transform="translate(62.86 1005.39) rotate(-90) scale(0.6720 0.6446)"><text x="0" y="0" font-size="100" font-family='"Liberation Sans", sans-serif'>2/3</text></g>
<g transform="translate(95.46 908.15) rotate(-90) scale(0.6646 0.8021)"><text x="0" y="0" font-size="100" font-family='"Liberation Sans", sans-serif'>)</text></g>
<g transform="translate(1117.10 1245.97) rotate(-90) scale(0.8611 0.8551)"><text x="0" y="0" font-size="100" font-family='"Liberation Sans", sans-serif'>I</text></g>
<g transform="translate(1136.63 1223.82) rotate(-90) scale(0.6658 0.6648)"><text x="0" y="0" font-size="100" font-family='"Liberation Sans", sans-serif'>d</text></g>
<g transform="translate(1084.00 1186.78) rotate(-90) scale(0.6500 0.6714)"><text x="0" y="0" font-size="100" font-family='"Liberation Sans", sans-serif'>2</text></g>
<g transform="translate(1117.21 1126.47) rotate(-90) scale(0.7326 0.8138)"><text x="0" y="0" font-size="100" font-family='"Liberation Sans", sans-serif'>(</text></g>
<g transform="translate(1117.20 1099.65) rotate(-90) scale(0.8443 0.8093)"><text x="0" y="0" font-size="100" font-family='"Liberation Sans", sans-serif'>m</text></g>
<g transform="translate(1117.20 1031.36) rotate(-90) scale(0.8486 0.8580)"><text x="0" y="0" font-size="100" font-family='"Liberation Sans", sans-serif'>A</text></g>
<g transform="translate(1084.00 975.81) rotate(-90) scale(0.6565 0.6700)"><text x="0" y="0" font-size="100" font-family='"Liberation Sans", sans-serif'>2</text></g>
<g transform="translate(1117.09 935.62) rotate(-90) scale(0.7303 0.8149)"><text x="0" y="0" font-size="100" font-family='"Liberation Sans", sans-serif'>)</text></g>
</svg>
</body></html>
